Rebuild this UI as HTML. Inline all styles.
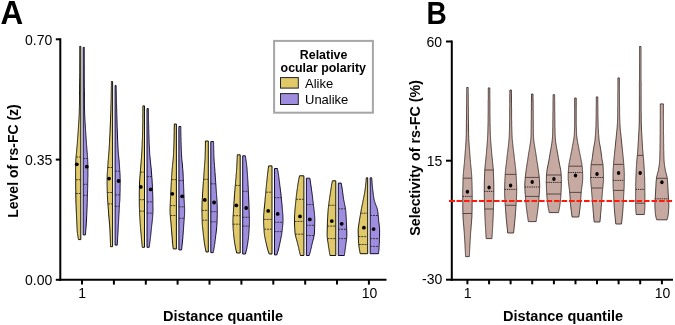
<!DOCTYPE html>
<html><head><meta charset="utf-8"><style>
html,body{margin:0;padding:0;background:#fff;}
svg{display:block;}
text{font-family:"Liberation Sans", sans-serif;fill:#000;}
</style></head><body>
<svg width="675" height="325" viewBox="0 0 675 325" style='font-family:"Liberation Sans", sans-serif'>
<rect width="675" height="325" fill="#fff"/>
<path d="M80.8,46.4 L79.7,46.4 L79.7,47.4 L79.7,48.4 L79.7,49.4 L79.7,50.4 L79.7,51.4 L79.7,52.3 L79.7,53.3 L79.7,54.3 L79.7,55.3 L79.7,56.3 L79.7,57.3 L79.7,58.3 L79.7,59.3 L79.7,60.3 L79.7,61.3 L79.7,62.3 L79.7,63.2 L79.7,64.2 L79.7,65.2 L79.7,66.2 L79.7,67.2 L79.7,68.2 L79.7,69.2 L79.7,70.2 L79.7,71.2 L79.7,72.2 L79.7,73.2 L79.7,74.1 L79.7,75.1 L79.7,76.1 L79.7,77.1 L79.7,78.1 L79.6,79.1 L79.6,80.1 L79.6,81.1 L79.6,82.1 L79.6,83.1 L79.6,84 L79.6,85 L79.6,86 L79.6,87 L79.6,88 L79.6,89 L79.6,90 L79.6,91 L79.6,92 L79.5,93 L79.5,94 L79.5,94.9 L79.5,95.9 L79.5,96.9 L79.5,97.9 L79.5,98.9 L79.5,99.9 L79.5,100.9 L79.5,101.9 L79.5,102.9 L79.5,103.9 L79.4,104.9 L79.4,105.8 L79.4,106.8 L79.4,107.8 L79.4,108.8 L79.3,109.8 L79.3,110.8 L79.3,111.8 L79.3,112.8 L79.2,113.8 L79.2,114.8 L79.1,115.8 L79.1,116.7 L79,117.7 L79,118.7 L78.9,119.7 L78.9,120.7 L78.8,121.7 L78.7,122.7 L78.7,123.7 L78.6,124.7 L78.5,125.7 L78.5,126.7 L78.4,127.6 L78.3,128.6 L78.3,129.6 L78.2,130.6 L78.1,131.6 L78.1,132.6 L78,133.6 L77.9,134.6 L77.8,135.6 L77.8,136.6 L77.7,137.6 L77.6,138.5 L77.6,139.5 L77.5,140.5 L77.4,141.5 L77.3,142.5 L77.3,143.5 L77.2,144.5 L77.1,145.5 L77,146.5 L76.9,147.5 L76.8,148.4 L76.7,149.4 L76.7,150.4 L76.6,151.4 L76.5,152.4 L76.4,153.4 L76.3,154.4 L76.2,155.4 L76.1,156.4 L76,157.4 L75.9,158.4 L75.8,159.3 L75.8,160.3 L75.8,161.3 L75.7,162.3 L75.7,163.3 L75.7,164.3 L75.7,165.3 L75.6,166.3 L75.6,167.3 L75.6,168.3 L75.6,169.3 L75.6,170.2 L75.6,171.2 L75.6,172.2 L75.6,173.2 L75.6,174.2 L75.6,175.2 L75.6,176.2 L75.6,177.2 L75.6,178.2 L75.6,179.2 L75.7,180.2 L75.7,181.1 L75.7,182.1 L75.7,183.1 L75.7,184.1 L75.7,185.1 L75.7,186.1 L75.7,187.1 L75.7,188.1 L75.7,189.1 L75.8,190.1 L75.8,191.1 L75.8,192 L75.8,193 L75.8,194 L75.8,195 L75.8,196 L75.8,197 L75.9,198 L75.9,199 L75.9,200 L75.9,201 L75.9,202 L76,202.9 L76,203.9 L76,204.9 L76.1,205.9 L76.1,206.9 L76.2,207.9 L76.2,208.9 L76.2,209.9 L76.3,210.9 L76.3,211.9 L76.4,212.8 L76.4,213.8 L76.5,214.8 L76.5,215.8 L76.6,216.8 L76.6,217.8 L76.6,218.8 L76.7,219.8 L76.7,220.8 L76.8,221.8 L76.8,222.8 L76.8,223.7 L76.9,224.7 L76.9,225.7 L77,226.7 L77,227.7 L77.1,228.7 L77.1,229.7 L77.2,230.7 L77.3,231.7 L77.4,232.7 L77.5,233.7 L77.6,234.6 L77.8,235.6 L77.9,236.6 L78.1,237.6 L78.3,238.6 L78.5,239.6 L80.8,239.6 Z" fill="#E1C96A" stroke="#111108" stroke-width="1.0" stroke-linejoin="miter"/>
<path d="M83.2,47.4 L84.3,47.4 L84.3,48.4 L84.3,49.4 L84.3,50.4 L84.3,51.4 L84.3,52.4 L84.3,53.4 L84.3,54.3 L84.3,55.3 L84.3,56.3 L84.3,57.3 L84.3,58.3 L84.3,59.3 L84.3,60.3 L84.3,61.3 L84.3,62.3 L84.3,63.3 L84.3,64.3 L84.3,65.3 L84.3,66.2 L84.3,67.2 L84.3,68.2 L84.3,69.2 L84.3,70.2 L84.3,71.2 L84.3,72.2 L84.3,73.2 L84.3,74.2 L84.3,75.2 L84.3,76.2 L84.3,77.2 L84.3,78.2 L84.3,79.1 L84.3,80.1 L84.3,81.1 L84.3,82.1 L84.3,83.1 L84.3,84.1 L84.3,85.1 L84.3,86.1 L84.3,87.1 L84.4,88.1 L84.4,89.1 L84.4,90.1 L84.4,91.1 L84.4,92 L84.4,93 L84.4,94 L84.4,95 L84.4,96 L84.4,97 L84.4,98 L84.4,99 L84.4,100 L84.4,101 L84.4,102 L84.4,103 L84.4,103.9 L84.5,104.9 L84.5,105.9 L84.5,106.9 L84.5,107.9 L84.5,108.9 L84.5,109.9 L84.6,110.9 L84.6,111.9 L84.6,112.9 L84.7,113.9 L84.7,114.9 L84.7,115.9 L84.8,116.8 L84.8,117.8 L84.9,118.8 L84.9,119.8 L85,120.8 L85,121.8 L85.1,122.8 L85.2,123.8 L85.2,124.8 L85.3,125.8 L85.4,126.8 L85.4,127.8 L85.5,128.7 L85.5,129.7 L85.6,130.7 L85.7,131.7 L85.7,132.7 L85.8,133.7 L85.9,134.7 L85.9,135.7 L86,136.7 L86.1,137.7 L86.1,138.7 L86.2,139.7 L86.3,140.7 L86.3,141.6 L86.4,142.6 L86.5,143.6 L86.5,144.6 L86.6,145.6 L86.7,146.6 L86.8,147.6 L86.8,148.6 L86.9,149.6 L87,150.6 L87.1,151.6 L87.2,152.6 L87.3,153.6 L87.4,154.5 L87.4,155.5 L87.5,156.5 L87.6,157.5 L87.6,158.5 L87.7,159.5 L87.7,160.5 L87.7,161.5 L87.8,162.5 L87.8,163.5 L87.8,164.5 L87.8,165.5 L87.9,166.4 L87.9,167.4 L87.9,168.4 L87.9,169.4 L87.9,170.4 L87.9,171.4 L87.9,172.4 L87.9,173.4 L87.9,174.4 L87.9,175.4 L87.9,176.4 L87.8,177.4 L87.8,178.4 L87.8,179.3 L87.8,180.3 L87.8,181.3 L87.7,182.3 L87.7,183.3 L87.7,184.3 L87.7,185.3 L87.7,186.3 L87.7,187.3 L87.6,188.3 L87.6,189.3 L87.6,190.3 L87.6,191.2 L87.5,192.2 L87.5,193.2 L87.5,194.2 L87.4,195.2 L87.4,196.2 L87.4,197.2 L87.4,198.2 L87.3,199.2 L87.3,200.2 L87.3,201.2 L87.2,202.2 L87.2,203.2 L87.2,204.1 L87.1,205.1 L87.1,206.1 L87.1,207.1 L87,208.1 L87,209.1 L86.9,210.1 L86.9,211.1 L86.8,212.1 L86.8,213.1 L86.8,214.1 L86.7,215.1 L86.7,216.1 L86.6,217 L86.6,218 L86.5,219 L86.5,220 L86.4,221 L86.4,222 L86.3,223 L86.2,224 L86.2,225 L86.1,226 L86,227 L86,228 L85.9,228.9 L85.8,229.9 L85.7,230.9 L85.6,231.9 L85.6,232.9 L85.5,233.9 L85.4,234.9 L83.2,234.9 Z" fill="#9F8DDF" stroke="#100c24" stroke-width="1.0" stroke-linejoin="miter"/>
<line x1="76.1" y1="157" x2="80.8" y2="157" stroke="#2a2a2a" stroke-width="0.9" stroke-dasharray="2 0.9"/>
<line x1="75.8" y1="179.7" x2="80.8" y2="179.7" stroke="#2a2a2a" stroke-width="0.9" stroke-dasharray="2 0.9"/>
<line x1="75.9" y1="193.5" x2="80.8" y2="193.5" stroke="#2a2a2a" stroke-width="0.9" stroke-dasharray="2 0.9"/>
<line x1="83.2" y1="158.5" x2="87.5" y2="158.5" stroke="#2a2a2a" stroke-width="0.9" stroke-dasharray="2 0.9"/>
<line x1="83.2" y1="184.3" x2="87.6" y2="184.3" stroke="#2a2a2a" stroke-width="0.9" stroke-dasharray="2 0.9"/>
<line x1="83.2" y1="195.4" x2="87.3" y2="195.4" stroke="#2a2a2a" stroke-width="0.9" stroke-dasharray="2 0.9"/>
<circle cx="76.8" cy="164.3" r="1.9" fill="#000"/>
<circle cx="86.8" cy="166.7" r="1.9" fill="#000"/>
<path d="M112.6,81.5 L111.4,81.5 L111.4,82.5 L111.4,83.5 L111.4,84.5 L111.4,85.5 L111.4,86.4 L111.3,87.4 L111.3,88.4 L111.3,89.4 L111.3,90.4 L111.3,91.4 L111.3,92.4 L111.2,93.4 L111.2,94.4 L111.2,95.3 L111.2,96.3 L111.2,97.3 L111.2,98.3 L111.1,99.3 L111.1,100.3 L111.1,101.3 L111.1,102.3 L111,103.3 L111,104.3 L111,105.2 L110.9,106.2 L110.9,107.2 L110.9,108.2 L110.9,109.2 L110.8,110.2 L110.8,111.2 L110.8,112.2 L110.7,113.2 L110.7,114.1 L110.7,115.1 L110.6,116.1 L110.6,117.1 L110.6,118.1 L110.5,119.1 L110.5,120.1 L110.5,121.1 L110.4,122.1 L110.4,123 L110.3,124 L110.3,125 L110.3,126 L110.2,127 L110.2,128 L110.1,129 L110.1,130 L110.1,131 L110,132 L110,132.9 L109.9,133.9 L109.9,134.9 L109.8,135.9 L109.8,136.9 L109.7,137.9 L109.7,138.9 L109.6,139.9 L109.6,140.9 L109.5,141.8 L109.5,142.8 L109.4,143.8 L109.4,144.8 L109.3,145.8 L109.2,146.8 L109.2,147.8 L109.1,148.8 L109.1,149.8 L109,150.7 L108.9,151.7 L108.8,152.7 L108.8,153.7 L108.7,154.7 L108.6,155.7 L108.5,156.7 L108.4,157.7 L108.4,158.7 L108.3,159.6 L108.2,160.6 L108.1,161.6 L108,162.6 L108,163.6 L107.9,164.6 L107.8,165.6 L107.8,166.6 L107.7,167.6 L107.6,168.6 L107.6,169.5 L107.5,170.5 L107.4,171.5 L107.4,172.5 L107.3,173.5 L107.2,174.5 L107.2,175.5 L107.2,176.5 L107.1,177.5 L107.1,178.4 L107.1,179.4 L107.1,180.4 L107.1,181.4 L107.1,182.4 L107.1,183.4 L107.1,184.4 L107.1,185.4 L107.1,186.4 L107.2,187.3 L107.2,188.3 L107.2,189.3 L107.2,190.3 L107.3,191.3 L107.3,192.3 L107.3,193.3 L107.4,194.3 L107.4,195.3 L107.4,196.2 L107.5,197.2 L107.5,198.2 L107.6,199.2 L107.6,200.2 L107.7,201.2 L107.8,202.2 L107.9,203.2 L107.9,204.2 L108,205.2 L108.1,206.1 L108.2,207.1 L108.2,208.1 L108.3,209.1 L108.4,210.1 L108.5,211.1 L108.5,212.1 L108.6,213.1 L108.7,214.1 L108.7,215 L108.8,216 L108.9,217 L109,218 L109.1,219 L109.2,220 L109.3,221 L109.3,222 L109.4,223 L109.5,223.9 L109.6,224.9 L109.7,225.9 L109.7,226.9 L109.8,227.9 L109.9,228.9 L109.9,229.9 L110,230.9 L110,231.9 L110.1,232.9 L110.1,233.8 L110.1,234.8 L110.2,235.8 L110.2,236.8 L110.3,237.8 L110.3,238.8 L110.3,239.8 L110.4,240.8 L110.4,241.8 L110.4,242.7 L110.5,243.7 L110.5,244.7 L110.5,245.7 L110.5,246.7 L112.6,246.7 Z" fill="#E1C96A" stroke="#111108" stroke-width="1.0" stroke-linejoin="miter"/>
<path d="M115.1,85.4 L116.1,85.4 L116.2,86.4 L116.2,87.4 L116.2,88.4 L116.2,89.4 L116.2,90.4 L116.3,91.4 L116.3,92.3 L116.3,93.3 L116.3,94.3 L116.3,95.3 L116.4,96.3 L116.4,97.3 L116.4,98.3 L116.4,99.3 L116.4,100.3 L116.5,101.3 L116.5,102.3 L116.5,103.3 L116.5,104.2 L116.6,105.2 L116.6,106.2 L116.6,107.2 L116.6,108.2 L116.7,109.2 L116.7,110.2 L116.7,111.2 L116.7,112.2 L116.8,113.2 L116.8,114.2 L116.8,115.2 L116.8,116.1 L116.9,117.1 L116.9,118.1 L116.9,119.1 L117,120.1 L117,121.1 L117,122.1 L117,123.1 L117.1,124.1 L117.1,125.1 L117.1,126.1 L117.2,127.1 L117.2,128.1 L117.2,129 L117.3,130 L117.3,131 L117.3,132 L117.4,133 L117.4,134 L117.4,135 L117.5,136 L117.5,137 L117.5,138 L117.6,139 L117.6,140 L117.7,140.9 L117.7,141.9 L117.8,142.9 L117.8,143.9 L117.8,144.9 L117.9,145.9 L117.9,146.9 L118,147.9 L118,148.9 L118.1,149.9 L118.2,150.9 L118.2,151.9 L118.3,152.9 L118.4,153.8 L118.5,154.8 L118.6,155.8 L118.7,156.8 L118.8,157.8 L118.9,158.8 L119,159.8 L119.1,160.8 L119.2,161.8 L119.2,162.8 L119.3,163.8 L119.4,164.8 L119.4,165.7 L119.5,166.7 L119.6,167.7 L119.6,168.7 L119.7,169.7 L119.8,170.7 L119.8,171.7 L119.9,172.7 L120,173.7 L120,174.7 L120.1,175.7 L120.1,176.7 L120.1,177.6 L120.2,178.6 L120.2,179.6 L120.2,180.6 L120.2,181.6 L120.2,182.6 L120.2,183.6 L120.2,184.6 L120.1,185.6 L120.1,186.6 L120.1,187.6 L120.1,188.6 L120.1,189.6 L120.1,190.5 L120.1,191.5 L120,192.5 L120,193.5 L120,194.5 L120,195.5 L119.9,196.5 L119.9,197.5 L119.9,198.5 L119.8,199.5 L119.8,200.5 L119.7,201.5 L119.6,202.4 L119.6,203.4 L119.5,204.4 L119.4,205.4 L119.4,206.4 L119.3,207.4 L119.3,208.4 L119.2,209.4 L119.2,210.4 L119.1,211.4 L119.1,212.4 L119,213.4 L118.9,214.4 L118.9,215.3 L118.8,216.3 L118.8,217.3 L118.7,218.3 L118.7,219.3 L118.6,220.3 L118.6,221.3 L118.5,222.3 L118.5,223.3 L118.4,224.3 L118.3,225.3 L118.3,226.3 L118.2,227.2 L118.2,228.2 L118.1,229.2 L118.1,230.2 L118,231.2 L118,232.2 L117.9,233.2 L117.9,234.2 L117.8,235.2 L117.7,236.2 L117.7,237.2 L117.6,238.2 L117.6,239.1 L117.5,240.1 L117.5,241.1 L117.4,242.1 L117.4,243.1 L117.3,244.1 L117.3,245.1 L115.1,245.1 Z" fill="#9F8DDF" stroke="#100c24" stroke-width="1.0" stroke-linejoin="miter"/>
<line x1="107.8" y1="167.5" x2="112.7" y2="167.5" stroke="#2a2a2a" stroke-width="0.9" stroke-dasharray="2 0.9"/>
<line x1="107.4" y1="192.5" x2="112.7" y2="192.5" stroke="#2a2a2a" stroke-width="0.9" stroke-dasharray="2 0.9"/>
<line x1="108" y1="203.9" x2="112.7" y2="203.9" stroke="#2a2a2a" stroke-width="0.9" stroke-dasharray="2 0.9"/>
<line x1="115" y1="171.2" x2="119.7" y2="171.2" stroke="#2a2a2a" stroke-width="0.9" stroke-dasharray="2 0.9"/>
<line x1="115" y1="194.9" x2="119.9" y2="194.9" stroke="#2a2a2a" stroke-width="0.9" stroke-dasharray="2 0.9"/>
<line x1="115" y1="206.3" x2="119.3" y2="206.3" stroke="#2a2a2a" stroke-width="0.9" stroke-dasharray="2 0.9"/>
<circle cx="109" cy="178.6" r="1.9" fill="#000"/>
<circle cx="118.6" cy="181" r="1.9" fill="#000"/>
<path d="M144.5,105.9 L142.9,105.9 L142.9,106.9 L142.9,107.9 L142.9,108.9 L142.9,109.9 L142.9,110.8 L142.9,111.8 L142.9,112.8 L142.9,113.8 L142.8,114.8 L142.8,115.8 L142.8,116.8 L142.8,117.8 L142.8,118.8 L142.8,119.7 L142.8,120.7 L142.8,121.7 L142.8,122.7 L142.7,123.7 L142.7,124.7 L142.7,125.7 L142.7,126.7 L142.7,127.7 L142.7,128.6 L142.6,129.6 L142.6,130.6 L142.6,131.6 L142.6,132.6 L142.6,133.6 L142.5,134.6 L142.5,135.6 L142.5,136.6 L142.4,137.5 L142.4,138.5 L142.4,139.5 L142.3,140.5 L142.3,141.5 L142.2,142.5 L142.2,143.5 L142.2,144.5 L142.1,145.5 L142.1,146.4 L142,147.4 L142,148.4 L141.9,149.4 L141.9,150.4 L141.8,151.4 L141.8,152.4 L141.7,153.4 L141.6,154.4 L141.6,155.3 L141.5,156.3 L141.5,157.3 L141.4,158.3 L141.3,159.3 L141.2,160.3 L141.2,161.3 L141.1,162.3 L141,163.3 L140.9,164.2 L140.8,165.2 L140.7,166.2 L140.7,167.2 L140.6,168.2 L140.5,169.2 L140.4,170.2 L140.4,171.2 L140.3,172.2 L140.2,173.1 L140.2,174.1 L140.1,175.1 L140,176.1 L139.9,177.1 L139.8,178.1 L139.8,179.1 L139.7,180.1 L139.6,181 L139.6,182 L139.5,183 L139.5,184 L139.5,185 L139.4,186 L139.4,187 L139.4,188 L139.4,189 L139.4,189.9 L139.3,190.9 L139.3,191.9 L139.3,192.9 L139.3,193.9 L139.3,194.9 L139.3,195.9 L139.3,196.9 L139.3,197.9 L139.3,198.8 L139.3,199.8 L139.3,200.8 L139.3,201.8 L139.3,202.8 L139.3,203.8 L139.3,204.8 L139.3,205.8 L139.4,206.8 L139.4,207.7 L139.4,208.7 L139.5,209.7 L139.5,210.7 L139.5,211.7 L139.6,212.7 L139.6,213.7 L139.6,214.7 L139.7,215.7 L139.8,216.6 L139.8,217.6 L139.9,218.6 L139.9,219.6 L140,220.6 L140.1,221.6 L140.1,222.6 L140.2,223.6 L140.3,224.6 L140.3,225.5 L140.4,226.5 L140.5,227.5 L140.6,228.5 L140.6,229.5 L140.7,230.5 L140.8,231.5 L140.9,232.5 L141,233.5 L141.1,234.4 L141.2,235.4 L141.3,236.4 L141.3,237.4 L141.4,238.4 L141.5,239.4 L141.6,240.4 L141.7,241.4 L141.8,242.4 L141.9,243.3 L142,244.3 L142.1,245.3 L142.2,246.3 L142.3,247.3 L144.5,247.3 Z" fill="#E1C96A" stroke="#111108" stroke-width="1.0" stroke-linejoin="miter"/>
<path d="M147,108.6 L148.4,108.6 L148.4,109.6 L148.4,110.6 L148.4,111.6 L148.4,112.6 L148.5,113.6 L148.5,114.5 L148.5,115.5 L148.5,116.5 L148.5,117.5 L148.5,118.5 L148.5,119.5 L148.5,120.5 L148.6,121.5 L148.6,122.5 L148.6,123.5 L148.6,124.5 L148.7,125.4 L148.7,126.4 L148.7,127.4 L148.7,128.4 L148.7,129.4 L148.8,130.4 L148.8,131.4 L148.8,132.4 L148.8,133.4 L148.9,134.4 L148.9,135.3 L148.9,136.3 L149,137.3 L149,138.3 L149,139.3 L149.1,140.3 L149.1,141.3 L149.1,142.3 L149.2,143.3 L149.2,144.3 L149.3,145.3 L149.3,146.2 L149.4,147.2 L149.4,148.2 L149.5,149.2 L149.5,150.2 L149.6,151.2 L149.6,152.2 L149.7,153.2 L149.7,154.2 L149.8,155.2 L149.9,156.2 L150,157.1 L150.1,158.1 L150.2,159.1 L150.3,160.1 L150.4,161.1 L150.5,162.1 L150.6,163.1 L150.7,164.1 L150.8,165.1 L150.9,166.1 L151,167.1 L151.1,168 L151.2,169 L151.3,170 L151.3,171 L151.4,172 L151.5,173 L151.6,174 L151.7,175 L151.7,176 L151.8,177 L151.9,177.9 L152,178.9 L152.1,179.9 L152.1,180.9 L152.2,181.9 L152.2,182.9 L152.3,183.9 L152.4,184.9 L152.4,185.9 L152.4,186.9 L152.5,187.9 L152.5,188.8 L152.6,189.8 L152.6,190.8 L152.6,191.8 L152.7,192.8 L152.7,193.8 L152.7,194.8 L152.8,195.8 L152.8,196.8 L152.8,197.8 L152.8,198.8 L152.9,199.7 L152.9,200.7 L152.9,201.7 L152.9,202.7 L152.9,203.7 L152.9,204.7 L152.9,205.7 L152.9,206.7 L153,207.7 L153,208.7 L153,209.7 L153,210.6 L152.9,211.6 L152.9,212.6 L152.9,213.6 L152.8,214.6 L152.7,215.6 L152.7,216.6 L152.6,217.6 L152.5,218.6 L152.4,219.6 L152.3,220.6 L152.2,221.5 L152.1,222.5 L152,223.5 L151.8,224.5 L151.7,225.5 L151.6,226.5 L151.5,227.5 L151.4,228.5 L151.3,229.5 L151.2,230.5 L151.1,231.4 L151,232.4 L150.9,233.4 L150.8,234.4 L150.7,235.4 L150.6,236.4 L150.5,237.4 L150.3,238.4 L150.2,239.4 L150.1,240.4 L150,241.4 L149.8,242.3 L149.7,243.3 L149.6,244.3 L149.5,245.3 L149.3,246.3 L149.2,247.3 L147,247.3 Z" fill="#9F8DDF" stroke="#100c24" stroke-width="1.0" stroke-linejoin="miter"/>
<line x1="140.4" y1="172.1" x2="144.6" y2="172.1" stroke="#2a2a2a" stroke-width="0.9" stroke-dasharray="2 0.9"/>
<line x1="139.4" y1="199.7" x2="144.6" y2="199.7" stroke="#2a2a2a" stroke-width="0.9" stroke-dasharray="2 0.9"/>
<line x1="139.6" y1="211.1" x2="144.6" y2="211.1" stroke="#2a2a2a" stroke-width="0.9" stroke-dasharray="2 0.9"/>
<line x1="146.9" y1="176.6" x2="151.7" y2="176.6" stroke="#2a2a2a" stroke-width="0.9" stroke-dasharray="2 0.9"/>
<line x1="146.9" y1="201.9" x2="152.8" y2="201.9" stroke="#2a2a2a" stroke-width="0.9" stroke-dasharray="2 0.9"/>
<line x1="146.9" y1="213.1" x2="152.8" y2="213.1" stroke="#2a2a2a" stroke-width="0.9" stroke-dasharray="2 0.9"/>
<circle cx="140.8" cy="186.9" r="1.9" fill="#000"/>
<circle cx="150.7" cy="189.4" r="1.9" fill="#000"/>
<path d="M176.4,124 L174.3,124 L174.3,125 L174.3,126 L174.3,127 L174.2,128 L174.2,129 L174.2,129.9 L174.2,130.9 L174.2,131.9 L174.2,132.9 L174.2,133.9 L174.1,134.9 L174.1,135.9 L174.1,136.9 L174.1,137.9 L174.1,138.9 L174,139.9 L174,140.9 L174,141.8 L174,142.8 L173.9,143.8 L173.9,144.8 L173.9,145.8 L173.8,146.8 L173.8,147.8 L173.8,148.8 L173.7,149.8 L173.7,150.8 L173.6,151.8 L173.6,152.7 L173.6,153.7 L173.5,154.7 L173.4,155.7 L173.4,156.7 L173.3,157.7 L173.2,158.7 L173.1,159.7 L173,160.7 L172.9,161.7 L172.8,162.7 L172.7,163.7 L172.6,164.6 L172.5,165.6 L172.4,166.6 L172.3,167.6 L172.2,168.6 L172.1,169.6 L172.1,170.6 L172,171.6 L171.9,172.6 L171.8,173.6 L171.8,174.6 L171.7,175.5 L171.6,176.5 L171.6,177.5 L171.5,178.5 L171.5,179.5 L171.4,180.5 L171.4,181.5 L171.3,182.5 L171.2,183.5 L171.2,184.5 L171.1,185.5 L171.1,186.4 L171,187.4 L171,188.4 L170.9,189.4 L170.9,190.4 L170.8,191.4 L170.8,192.4 L170.7,193.4 L170.7,194.4 L170.7,195.4 L170.6,196.4 L170.6,197.4 L170.5,198.3 L170.5,199.3 L170.4,200.3 L170.4,201.3 L170.3,202.3 L170.3,203.3 L170.2,204.3 L170.2,205.3 L170.1,206.3 L170.1,207.3 L170.1,208.3 L170,209.2 L170,210.2 L170.1,211.2 L170.1,212.2 L170.1,213.2 L170.2,214.2 L170.3,215.2 L170.3,216.2 L170.4,217.2 L170.5,218.2 L170.6,219.2 L170.7,220.2 L170.8,221.1 L170.9,222.1 L171,223.1 L171.1,224.1 L171.1,225.1 L171.2,226.1 L171.3,227.1 L171.4,228.1 L171.5,229.1 L171.5,230.1 L171.6,231.1 L171.7,232 L171.8,233 L171.9,234 L171.9,235 L172,236 L172.1,237 L172.2,238 L172.3,239 L172.3,240 L172.4,241 L172.5,242 L172.6,243 L172.7,243.9 L172.8,244.9 L172.9,245.9 L173,246.9 L173.1,247.9 L173.2,248.9 L176.4,248.9 Z" fill="#E1C96A" stroke="#111108" stroke-width="1.0" stroke-linejoin="miter"/>
<path d="M178.9,126.5 L180.8,126.5 L180.8,127.5 L180.8,128.5 L180.8,129.5 L180.8,130.4 L180.8,131.4 L180.8,132.4 L180.9,133.4 L180.9,134.4 L180.9,135.4 L180.9,136.4 L180.9,137.4 L181,138.3 L181,139.3 L181,140.3 L181,141.3 L181.1,142.3 L181.1,143.3 L181.1,144.3 L181.1,145.3 L181.2,146.2 L181.2,147.2 L181.2,148.2 L181.3,149.2 L181.3,150.2 L181.4,151.2 L181.4,152.2 L181.5,153.2 L181.5,154.1 L181.6,155.1 L181.6,156.1 L181.7,157.1 L181.7,158.1 L181.8,159.1 L181.9,160.1 L182,161.1 L182.1,162 L182.2,163 L182.3,164 L182.4,165 L182.5,166 L182.5,167 L182.6,168 L182.7,168.9 L182.8,169.9 L182.9,170.9 L183,171.9 L183,172.9 L183.1,173.9 L183.1,174.9 L183.2,175.9 L183.2,176.8 L183.3,177.8 L183.3,178.8 L183.4,179.8 L183.4,180.8 L183.4,181.8 L183.5,182.8 L183.5,183.8 L183.6,184.7 L183.6,185.7 L183.6,186.7 L183.7,187.7 L183.7,188.7 L183.7,189.7 L183.8,190.7 L183.8,191.7 L183.8,192.6 L183.9,193.6 L183.9,194.6 L184,195.6 L184,196.6 L184,197.6 L184.1,198.6 L184.1,199.6 L184.2,200.5 L184.2,201.5 L184.3,202.5 L184.3,203.5 L184.4,204.5 L184.5,205.5 L184.5,206.5 L184.6,207.5 L184.6,208.4 L184.6,209.4 L184.6,210.4 L184.6,211.4 L184.6,212.4 L184.6,213.4 L184.5,214.4 L184.5,215.3 L184.4,216.3 L184.3,217.3 L184.3,218.3 L184.2,219.3 L184.1,220.3 L184,221.3 L183.9,222.3 L183.9,223.2 L183.8,224.2 L183.7,225.2 L183.7,226.2 L183.6,227.2 L183.5,228.2 L183.5,229.2 L183.4,230.2 L183.3,231.1 L183.2,232.1 L183.2,233.1 L183.1,234.1 L183,235.1 L182.9,236.1 L182.9,237.1 L182.8,238.1 L182.7,239 L182.6,240 L182.5,241 L182.4,242 L182.3,243 L182.2,244 L182.1,245 L182,246 L181.9,246.9 L181.8,247.9 L181.7,248.9 L181.5,249.9 L178.9,249.9 Z" fill="#9F8DDF" stroke="#100c24" stroke-width="1.0" stroke-linejoin="miter"/>
<line x1="171.6" y1="179.6" x2="176.5" y2="179.6" stroke="#2a2a2a" stroke-width="0.9" stroke-dasharray="2 0.9"/>
<line x1="170.3" y1="205.6" x2="176.5" y2="205.6" stroke="#2a2a2a" stroke-width="0.9" stroke-dasharray="2 0.9"/>
<line x1="170.4" y1="215.5" x2="176.5" y2="215.5" stroke="#2a2a2a" stroke-width="0.9" stroke-dasharray="2 0.9"/>
<line x1="178.8" y1="180.6" x2="183.3" y2="180.6" stroke="#2a2a2a" stroke-width="0.9" stroke-dasharray="2 0.9"/>
<line x1="178.8" y1="206.8" x2="184.5" y2="206.8" stroke="#2a2a2a" stroke-width="0.9" stroke-dasharray="2 0.9"/>
<line x1="178.8" y1="218.3" x2="184.2" y2="218.3" stroke="#2a2a2a" stroke-width="0.9" stroke-dasharray="2 0.9"/>
<circle cx="172.3" cy="193.8" r="1.9" fill="#000"/>
<circle cx="182.2" cy="196.3" r="1.9" fill="#000"/>
<path d="M208.3,141 L205.4,141 L205.4,142 L205.4,143 L205.4,143.9 L205.4,144.9 L205.4,145.9 L205.4,146.9 L205.3,147.9 L205.3,148.9 L205.3,149.8 L205.3,150.8 L205.3,151.8 L205.2,152.8 L205.2,153.8 L205.2,154.8 L205.2,155.7 L205.1,156.7 L205.1,157.7 L205,158.7 L205,159.7 L204.9,160.6 L204.8,161.6 L204.8,162.6 L204.7,163.6 L204.6,164.6 L204.5,165.6 L204.5,166.5 L204.4,167.5 L204.3,168.5 L204.3,169.5 L204.2,170.5 L204.1,171.5 L204.1,172.4 L204,173.4 L203.9,174.4 L203.9,175.4 L203.8,176.4 L203.7,177.3 L203.6,178.3 L203.6,179.3 L203.5,180.3 L203.4,181.3 L203.3,182.3 L203.3,183.2 L203.2,184.2 L203.1,185.2 L203.1,186.2 L203,187.2 L202.9,188.2 L202.9,189.1 L202.8,190.1 L202.8,191.1 L202.7,192.1 L202.6,193.1 L202.6,194 L202.5,195 L202.5,196 L202.4,197 L202.3,198 L202.3,199 L202.2,199.9 L202.2,200.9 L202.1,201.9 L202.1,202.9 L202.1,203.9 L202,204.8 L202,205.8 L202,206.8 L201.9,207.8 L201.9,208.8 L201.9,209.8 L201.9,210.7 L201.9,211.7 L201.9,212.7 L202,213.7 L202,214.7 L202,215.7 L202,216.6 L202.1,217.6 L202.1,218.6 L202.1,219.6 L202.2,220.6 L202.2,221.5 L202.2,222.5 L202.3,223.5 L202.3,224.5 L202.4,225.5 L202.5,226.5 L202.6,227.4 L202.7,228.4 L202.8,229.4 L202.9,230.4 L203,231.4 L203.1,232.4 L203.2,233.3 L203.3,234.3 L203.4,235.3 L203.6,236.3 L203.7,237.3 L203.8,238.2 L203.9,239.2 L204,240.2 L204.2,241.2 L204.3,242.2 L204.4,243.2 L204.6,244.1 L204.8,245.1 L204.9,246.1 L205.1,247.1 L205.3,248.1 L205.5,249.1 L205.7,250 L205.9,251 L206.1,252 L208.3,252 Z" fill="#E1C96A" stroke="#111108" stroke-width="1.0" stroke-linejoin="miter"/>
<path d="M210.8,141.6 L213.6,141.6 L213.6,142.6 L213.6,143.6 L213.6,144.5 L213.6,145.5 L213.7,146.5 L213.7,147.5 L213.7,148.5 L213.7,149.5 L213.7,150.4 L213.8,151.4 L213.8,152.4 L213.8,153.4 L213.8,154.4 L213.9,155.4 L213.9,156.3 L213.9,157.3 L214,158.3 L214.1,159.3 L214.1,160.3 L214.2,161.2 L214.2,162.2 L214.3,163.2 L214.4,164.2 L214.5,165.2 L214.5,166.2 L214.6,167.1 L214.7,168.1 L214.8,169.1 L214.8,170.1 L214.9,171.1 L214.9,172.1 L215,173 L215.1,174 L215.2,175 L215.2,176 L215.3,177 L215.4,177.9 L215.4,178.9 L215.5,179.9 L215.6,180.9 L215.7,181.9 L215.7,182.9 L215.8,183.8 L215.9,184.8 L215.9,185.8 L216,186.8 L216.1,187.8 L216.1,188.8 L216.2,189.7 L216.3,190.7 L216.3,191.7 L216.4,192.7 L216.5,193.7 L216.5,194.6 L216.6,195.6 L216.7,196.6 L216.8,197.6 L216.8,198.6 L216.9,199.6 L217,200.5 L217,201.5 L217.1,202.5 L217.1,203.5 L217.2,204.5 L217.2,205.4 L217.3,206.4 L217.3,207.4 L217.3,208.4 L217.3,209.4 L217.3,210.4 L217.3,211.3 L217.3,212.3 L217.3,213.3 L217.3,214.3 L217.2,215.3 L217.2,216.3 L217.2,217.2 L217.2,218.2 L217.1,219.2 L217.1,220.2 L217.1,221.2 L217,222.1 L217,223.1 L216.9,224.1 L216.8,225.1 L216.8,226.1 L216.7,227.1 L216.6,228 L216.5,229 L216.4,230 L216.3,231 L216.2,232 L216.1,233 L216,233.9 L215.8,234.9 L215.7,235.9 L215.6,236.9 L215.5,237.9 L215.4,238.8 L215.2,239.8 L215.1,240.8 L215,241.8 L214.9,242.8 L214.8,243.8 L214.6,244.7 L214.4,245.7 L214.3,246.7 L214.1,247.7 L213.9,248.7 L213.8,249.7 L213.6,250.6 L213.4,251.6 L213.2,252.6 L210.8,252.6 Z" fill="#9F8DDF" stroke="#100c24" stroke-width="1.0" stroke-linejoin="miter"/>
<line x1="203.7" y1="179.3" x2="208.4" y2="179.3" stroke="#2a2a2a" stroke-width="0.9" stroke-dasharray="2 0.9"/>
<line x1="202" y1="210.4" x2="208.4" y2="210.4" stroke="#2a2a2a" stroke-width="0.9" stroke-dasharray="2 0.9"/>
<line x1="202.3" y1="220.2" x2="208.4" y2="220.2" stroke="#2a2a2a" stroke-width="0.9" stroke-dasharray="2 0.9"/>
<line x1="210.7" y1="183.8" x2="215.7" y2="183.8" stroke="#2a2a2a" stroke-width="0.9" stroke-dasharray="2 0.9"/>
<line x1="210.7" y1="211.7" x2="217.2" y2="211.7" stroke="#2a2a2a" stroke-width="0.9" stroke-dasharray="2 0.9"/>
<line x1="210.7" y1="221.8" x2="216.9" y2="221.8" stroke="#2a2a2a" stroke-width="0.9" stroke-dasharray="2 0.9"/>
<circle cx="204.8" cy="199.9" r="1.9" fill="#000"/>
<circle cx="214.1" cy="202.5" r="1.9" fill="#000"/>
<path d="M240.2,154.8 L237.3,154.8 L237.3,155.8 L237.2,156.8 L237.2,157.7 L237.2,158.7 L237.1,159.7 L237.1,160.7 L237,161.7 L237,162.7 L236.9,163.6 L236.9,164.6 L236.8,165.6 L236.8,166.6 L236.7,167.6 L236.7,168.5 L236.6,169.5 L236.5,170.5 L236.5,171.5 L236.4,172.5 L236.3,173.5 L236.2,174.4 L236.1,175.4 L236.1,176.4 L236,177.4 L235.9,178.4 L235.8,179.4 L235.7,180.3 L235.6,181.3 L235.6,182.3 L235.5,183.3 L235.4,184.3 L235.3,185.2 L235.2,186.2 L235.1,187.2 L235,188.2 L235,189.2 L234.9,190.2 L234.8,191.1 L234.7,192.1 L234.7,193.1 L234.6,194.1 L234.5,195.1 L234.4,196 L234.4,197 L234.3,198 L234.2,199 L234.2,200 L234.1,201 L234,201.9 L234,202.9 L233.9,203.9 L233.8,204.9 L233.8,205.9 L233.7,206.8 L233.6,207.8 L233.6,208.8 L233.5,209.8 L233.5,210.8 L233.4,211.8 L233.3,212.7 L233.3,213.7 L233.2,214.7 L233.1,215.7 L233.1,216.7 L233,217.6 L233,218.6 L232.9,219.6 L232.9,220.6 L232.9,221.6 L232.9,222.6 L232.9,223.5 L232.9,224.5 L233,225.5 L233,226.5 L233.1,227.5 L233.2,228.4 L233.2,229.4 L233.3,230.4 L233.4,231.4 L233.5,232.4 L233.6,233.4 L233.6,234.3 L233.7,235.3 L233.8,236.3 L233.9,237.3 L234,238.3 L234.2,239.3 L234.3,240.2 L234.4,241.2 L234.6,242.2 L234.7,243.2 L234.9,244.2 L235,245.1 L235.2,246.1 L235.4,247.1 L235.6,248.1 L235.8,249.1 L236,250.1 L236.2,251 L236.4,252 L236.7,253 L240.2,253 Z" fill="#E1C96A" stroke="#111108" stroke-width="1.0" stroke-linejoin="miter"/>
<path d="M242.7,155.8 L245.3,155.8 L245.5,156.8 L245.6,157.8 L245.8,158.7 L245.9,159.7 L246.1,160.7 L246.2,161.7 L246.4,162.7 L246.5,163.7 L246.6,164.6 L246.7,165.6 L246.8,166.6 L246.9,167.6 L247,168.6 L247.1,169.5 L247.1,170.5 L247.2,171.5 L247.3,172.5 L247.4,173.5 L247.4,174.5 L247.5,175.4 L247.6,176.4 L247.6,177.4 L247.7,178.4 L247.7,179.4 L247.8,180.4 L247.9,181.3 L247.9,182.3 L248,183.3 L248,184.3 L248.1,185.3 L248.1,186.2 L248.2,187.2 L248.2,188.2 L248.3,189.2 L248.3,190.2 L248.4,191.2 L248.4,192.1 L248.4,193.1 L248.5,194.1 L248.5,195.1 L248.6,196.1 L248.6,197 L248.7,198 L248.7,199 L248.7,200 L248.8,201 L248.8,202 L248.9,202.9 L248.9,203.9 L248.9,204.9 L249,205.9 L249,206.9 L249,207.8 L249.1,208.8 L249.1,209.8 L249.1,210.8 L249.2,211.8 L249.2,212.8 L249.2,213.7 L249.3,214.7 L249.3,215.7 L249.3,216.7 L249.3,217.7 L249.4,218.6 L249.4,219.6 L249.4,220.6 L249.4,221.6 L249.4,222.6 L249.4,223.6 L249.4,224.5 L249.3,225.5 L249.3,226.5 L249.2,227.5 L249.2,228.5 L249.1,229.4 L249,230.4 L249,231.4 L248.9,232.4 L248.8,233.4 L248.8,234.4 L248.7,235.3 L248.6,236.3 L248.5,237.3 L248.4,238.3 L248.3,239.3 L248.1,240.3 L248,241.2 L247.9,242.2 L247.7,243.2 L247.6,244.2 L247.4,245.2 L247.2,246.1 L247,247.1 L246.9,248.1 L246.7,249.1 L246.4,250.1 L246.2,251.1 L245.9,252 L245.7,253 L245.4,254 L242.7,254 Z" fill="#9F8DDF" stroke="#100c24" stroke-width="1.0" stroke-linejoin="miter"/>
<line x1="235.4" y1="185.4" x2="240.2" y2="185.4" stroke="#2a2a2a" stroke-width="0.9" stroke-dasharray="2 0.9"/>
<line x1="233.2" y1="215.7" x2="240.2" y2="215.7" stroke="#2a2a2a" stroke-width="0.9" stroke-dasharray="2 0.9"/>
<line x1="233" y1="224.2" x2="240.2" y2="224.2" stroke="#2a2a2a" stroke-width="0.9" stroke-dasharray="2 0.9"/>
<line x1="242.6" y1="191.3" x2="248.3" y2="191.3" stroke="#2a2a2a" stroke-width="0.9" stroke-dasharray="2 0.9"/>
<line x1="242.6" y1="217.3" x2="249.2" y2="217.3" stroke="#2a2a2a" stroke-width="0.9" stroke-dasharray="2 0.9"/>
<line x1="242.6" y1="226.1" x2="249.2" y2="226.1" stroke="#2a2a2a" stroke-width="0.9" stroke-dasharray="2 0.9"/>
<circle cx="236.3" cy="205.4" r="1.9" fill="#000"/>
<circle cx="246.2" cy="208" r="1.9" fill="#000"/>
<path d="M272,165.9 L268.6,165.9 L268.5,166.9 L268.3,167.9 L268.2,168.8 L268.1,169.8 L268,170.8 L267.9,171.8 L267.7,172.8 L267.6,173.7 L267.5,174.7 L267.4,175.7 L267.3,176.7 L267.2,177.6 L267.1,178.6 L267,179.6 L266.9,180.6 L266.8,181.6 L266.7,182.5 L266.6,183.5 L266.5,184.5 L266.4,185.5 L266.3,186.5 L266.2,187.4 L266.1,188.4 L266,189.4 L265.9,190.4 L265.9,191.4 L265.8,192.3 L265.7,193.3 L265.6,194.3 L265.5,195.3 L265.4,196.2 L265.3,197.2 L265.2,198.2 L265.1,199.2 L265.1,200.2 L265,201.1 L264.9,202.1 L264.8,203.1 L264.7,204.1 L264.6,205.1 L264.5,206 L264.4,207 L264.3,208 L264.2,209 L264.1,209.9 L264,210.9 L264,211.9 L263.9,212.9 L263.8,213.9 L263.7,214.8 L263.7,215.8 L263.6,216.8 L263.6,217.8 L263.6,218.8 L263.6,219.7 L263.6,220.7 L263.6,221.7 L263.6,222.7 L263.7,223.7 L263.7,224.6 L263.7,225.6 L263.8,226.6 L263.9,227.6 L263.9,228.5 L264,229.5 L264.1,230.5 L264.1,231.5 L264.2,232.5 L264.3,233.4 L264.4,234.4 L264.6,235.4 L264.7,236.4 L264.9,237.4 L265.1,238.3 L265.3,239.3 L265.5,240.3 L265.7,241.3 L266,242.3 L266.2,243.2 L266.4,244.2 L266.6,245.2 L266.8,246.2 L267.1,247.1 L267.3,248.1 L267.6,249.1 L267.9,250.1 L268.2,251.1 L268.5,252 L268.9,253 L269.2,254 L272,254 Z" fill="#E1C96A" stroke="#111108" stroke-width="1.0" stroke-linejoin="miter"/>
<path d="M274.5,168.5 L277.5,168.5 L277.6,169.5 L277.8,170.5 L278,171.4 L278.1,172.4 L278.3,173.4 L278.5,174.4 L278.6,175.4 L278.7,176.4 L278.8,177.3 L279,178.3 L279.1,179.3 L279.2,180.3 L279.3,181.3 L279.5,182.2 L279.6,183.2 L279.7,184.2 L279.8,185.2 L279.9,186.2 L280.1,187.2 L280.2,188.1 L280.3,189.1 L280.4,190.1 L280.5,191.1 L280.7,192.1 L280.8,193 L280.9,194 L281,195 L281.1,196 L281.2,197 L281.3,198 L281.4,198.9 L281.5,199.9 L281.6,200.9 L281.7,201.9 L281.8,202.9 L281.9,203.8 L282,204.8 L282.1,205.8 L282.2,206.8 L282.2,207.8 L282.3,208.8 L282.4,209.7 L282.5,210.7 L282.6,211.7 L282.7,212.7 L282.7,213.7 L282.8,214.6 L282.9,215.6 L282.9,216.6 L282.9,217.6 L283,218.6 L283,219.6 L283,220.5 L283,221.5 L282.9,222.5 L282.9,223.5 L282.8,224.5 L282.7,225.4 L282.6,226.4 L282.5,227.4 L282.4,228.4 L282.3,229.4 L282.2,230.4 L282.1,231.3 L281.9,232.3 L281.8,233.3 L281.7,234.3 L281.5,235.3 L281.3,236.2 L281.1,237.2 L281,238.2 L280.7,239.2 L280.5,240.2 L280.3,241.2 L280.1,242.1 L279.9,243.1 L279.7,244.1 L279.5,245.1 L279.2,246.1 L279,247 L278.8,248 L278.6,249 L278.3,250 L278,251 L277.7,252 L277.4,252.9 L277.1,253.9 L276.8,254.9 L274.5,254.9 Z" fill="#9F8DDF" stroke="#100c24" stroke-width="1.0" stroke-linejoin="miter"/>
<line x1="265.9" y1="192.2" x2="272.1" y2="192.2" stroke="#2a2a2a" stroke-width="0.9" stroke-dasharray="2 0.9"/>
<line x1="263.7" y1="219.4" x2="272.1" y2="219.4" stroke="#2a2a2a" stroke-width="0.9" stroke-dasharray="2 0.9"/>
<line x1="264.1" y1="229.2" x2="272.1" y2="229.2" stroke="#2a2a2a" stroke-width="0.9" stroke-dasharray="2 0.9"/>
<line x1="274.4" y1="197.7" x2="281.2" y2="197.7" stroke="#2a2a2a" stroke-width="0.9" stroke-dasharray="2 0.9"/>
<line x1="274.4" y1="222.3" x2="282.8" y2="222.3" stroke="#2a2a2a" stroke-width="0.9" stroke-dasharray="2 0.9"/>
<line x1="274.4" y1="231.6" x2="281.9" y2="231.6" stroke="#2a2a2a" stroke-width="0.9" stroke-dasharray="2 0.9"/>
<circle cx="268.2" cy="210.9" r="1.9" fill="#000"/>
<circle cx="277.7" cy="213.9" r="1.9" fill="#000"/>
<path d="M303.9,175.8 L299.5,175.8 L299.3,176.8 L299.1,177.8 L298.9,178.8 L298.7,179.7 L298.5,180.7 L298.4,181.7 L298.2,182.7 L298,183.7 L297.9,184.7 L297.7,185.6 L297.6,186.6 L297.5,187.6 L297.3,188.6 L297.2,189.6 L297,190.6 L296.9,191.5 L296.8,192.5 L296.7,193.5 L296.5,194.5 L296.4,195.5 L296.3,196.5 L296.2,197.4 L296.1,198.4 L296,199.4 L295.9,200.4 L295.8,201.4 L295.7,202.4 L295.6,203.4 L295.5,204.3 L295.4,205.3 L295.3,206.3 L295.2,207.3 L295.1,208.3 L295,209.3 L294.9,210.2 L294.9,211.2 L294.8,212.2 L294.7,213.2 L294.7,214.2 L294.6,215.2 L294.5,216.1 L294.5,217.1 L294.5,218.1 L294.5,219.1 L294.5,220.1 L294.5,221.1 L294.5,222 L294.5,223 L294.5,224 L294.6,225 L294.6,226 L294.7,227 L294.7,227.9 L294.8,228.9 L294.8,229.9 L294.9,230.9 L295,231.9 L295,232.9 L295.2,233.9 L295.3,234.8 L295.5,235.8 L295.8,236.8 L296,237.8 L296.3,238.8 L296.6,239.8 L296.8,240.7 L297.1,241.7 L297.4,242.7 L297.6,243.7 L297.9,244.7 L298.1,245.7 L298.3,246.6 L298.6,247.6 L298.8,248.6 L299,249.6 L299.2,250.6 L299.5,251.6 L299.7,252.5 L299.9,253.5 L300.2,254.5 L300.4,255.5 L303.9,255.5 Z" fill="#E1C96A" stroke="#111108" stroke-width="1.0" stroke-linejoin="miter"/>
<path d="M306.4,178.2 L309.8,178.2 L310,179.2 L310.2,180.2 L310.3,181.1 L310.5,182.1 L310.6,183.1 L310.7,184.1 L310.9,185 L311,186 L311.1,187 L311.3,188 L311.4,189 L311.5,189.9 L311.7,190.9 L311.8,191.9 L312,192.9 L312.1,193.9 L312.2,194.8 L312.4,195.8 L312.5,196.8 L312.6,197.8 L312.7,198.7 L312.8,199.7 L312.9,200.7 L313.1,201.7 L313.2,202.7 L313.3,203.6 L313.4,204.6 L313.5,205.6 L313.7,206.6 L313.8,207.6 L313.9,208.5 L314,209.5 L314.1,210.5 L314.3,211.5 L314.4,212.4 L314.4,213.4 L314.5,214.4 L314.6,215.4 L314.7,216.4 L314.7,217.3 L314.7,218.3 L314.8,219.3 L314.8,220.3 L314.8,221.3 L314.7,222.2 L314.7,223.2 L314.7,224.2 L314.7,225.2 L314.7,226.1 L314.6,227.1 L314.6,228.1 L314.6,229.1 L314.5,230.1 L314.5,231 L314.5,232 L314.4,233 L314.3,234 L314.2,235 L314,235.9 L313.8,236.9 L313.6,237.9 L313.4,238.9 L313.1,239.8 L312.9,240.8 L312.6,241.8 L312.4,242.8 L312.1,243.8 L311.9,244.7 L311.7,245.7 L311.5,246.7 L311.3,247.7 L311,248.7 L310.8,249.6 L310.6,250.6 L310.3,251.6 L310.1,252.6 L309.8,253.5 L309.5,254.5 L309.2,255.5 L306.4,255.5 Z" fill="#9F8DDF" stroke="#100c24" stroke-width="1.0" stroke-linejoin="miter"/>
<line x1="296.1" y1="199.3" x2="304" y2="199.3" stroke="#2a2a2a" stroke-width="0.9" stroke-dasharray="2 0.9"/>
<line x1="294.6" y1="221.4" x2="304" y2="221.4" stroke="#2a2a2a" stroke-width="0.9" stroke-dasharray="2 0.9"/>
<line x1="295.3" y1="234.2" x2="304" y2="234.2" stroke="#2a2a2a" stroke-width="0.9" stroke-dasharray="2 0.9"/>
<line x1="306.3" y1="204.6" x2="313.3" y2="204.6" stroke="#2a2a2a" stroke-width="0.9" stroke-dasharray="2 0.9"/>
<line x1="306.3" y1="225.3" x2="314.6" y2="225.3" stroke="#2a2a2a" stroke-width="0.9" stroke-dasharray="2 0.9"/>
<line x1="306.3" y1="235.5" x2="314" y2="235.5" stroke="#2a2a2a" stroke-width="0.9" stroke-dasharray="2 0.9"/>
<circle cx="300" cy="216.4" r="1.9" fill="#000"/>
<circle cx="309.8" cy="219.4" r="1.9" fill="#000"/>
<path d="M335.8,180.8 L332.4,180.8 L332.2,181.8 L332,182.8 L331.8,183.7 L331.6,184.7 L331.5,185.7 L331.3,186.7 L331.2,187.7 L331,188.7 L330.9,189.6 L330.7,190.6 L330.6,191.6 L330.4,192.6 L330.3,193.6 L330.1,194.6 L330,195.5 L329.8,196.5 L329.7,197.5 L329.5,198.5 L329.4,199.5 L329.3,200.5 L329.1,201.4 L329,202.4 L328.9,203.4 L328.7,204.4 L328.6,205.4 L328.5,206.4 L328.4,207.3 L328.3,208.3 L328.2,209.3 L328.1,210.3 L328,211.3 L328,212.3 L327.9,213.2 L327.8,214.2 L327.8,215.2 L327.7,216.2 L327.7,217.2 L327.6,218.2 L327.6,219.1 L327.5,220.1 L327.5,221.1 L327.4,222.1 L327.4,223.1 L327.4,224 L327.3,225 L327.3,226 L327.3,227 L327.3,228 L327.2,229 L327.2,229.9 L327.2,230.9 L327.2,231.9 L327.2,232.9 L327.1,233.9 L327.1,234.9 L327.2,235.8 L327.2,236.8 L327.3,237.8 L327.4,238.8 L327.5,239.8 L327.7,240.8 L327.8,241.7 L328,242.7 L328.2,243.7 L328.3,244.7 L328.4,245.7 L328.6,246.7 L328.7,247.6 L328.9,248.6 L329,249.6 L329.2,250.6 L329.3,251.6 L329.5,252.6 L329.6,253.5 L329.8,254.5 L330,255.5 L335.8,255.5 Z" fill="#E1C96A" stroke="#111108" stroke-width="1.0" stroke-linejoin="miter"/>
<path d="M338.3,183.1 L341.2,183.1 L341.4,184.1 L341.5,185.1 L341.7,186 L341.9,187 L342,188 L342.2,189 L342.3,189.9 L342.5,190.9 L342.6,191.9 L342.7,192.9 L342.9,193.9 L343,194.8 L343.1,195.8 L343.3,196.8 L343.4,197.8 L343.5,198.8 L343.7,199.7 L343.9,200.7 L344.1,201.7 L344.3,202.7 L344.5,203.6 L344.7,204.6 L344.9,205.6 L345.1,206.6 L345.3,207.6 L345.5,208.5 L345.6,209.5 L345.7,210.5 L345.8,211.5 L345.9,212.5 L345.9,213.4 L346,214.4 L346.1,215.4 L346.1,216.4 L346.2,217.3 L346.2,218.3 L346.3,219.3 L346.3,220.3 L346.4,221.3 L346.4,222.2 L346.5,223.2 L346.5,224.2 L346.5,225.2 L346.6,226.1 L346.6,227.1 L346.7,228.1 L346.7,229.1 L346.7,230.1 L346.8,231 L346.8,232 L346.8,233 L346.8,234 L346.8,235 L346.8,235.9 L346.8,236.9 L346.7,237.9 L346.6,238.9 L346.5,239.8 L346.3,240.8 L346.2,241.8 L346,242.8 L345.9,243.8 L345.8,244.7 L345.7,245.7 L345.5,246.7 L345.4,247.7 L345.3,248.7 L345.1,249.6 L345,250.6 L344.9,251.6 L344.7,252.6 L344.6,253.5 L344.5,254.5 L344.3,255.5 L338.3,255.5 Z" fill="#9F8DDF" stroke="#100c24" stroke-width="1.0" stroke-linejoin="miter"/>
<line x1="328.7" y1="205.3" x2="335.9" y2="205.3" stroke="#2a2a2a" stroke-width="0.9" stroke-dasharray="2 0.9"/>
<line x1="327.4" y1="226.1" x2="335.9" y2="226.1" stroke="#2a2a2a" stroke-width="0.9" stroke-dasharray="2 0.9"/>
<line x1="327.5" y1="238.6" x2="335.9" y2="238.6" stroke="#2a2a2a" stroke-width="0.9" stroke-dasharray="2 0.9"/>
<line x1="338.2" y1="208.8" x2="345.4" y2="208.8" stroke="#2a2a2a" stroke-width="0.9" stroke-dasharray="2 0.9"/>
<line x1="338.2" y1="229.3" x2="346.6" y2="229.3" stroke="#2a2a2a" stroke-width="0.9" stroke-dasharray="2 0.9"/>
<line x1="338.2" y1="238.6" x2="346.5" y2="238.6" stroke="#2a2a2a" stroke-width="0.9" stroke-dasharray="2 0.9"/>
<circle cx="331.8" cy="221.1" r="1.9" fill="#000"/>
<circle cx="341.7" cy="223.8" r="1.9" fill="#000"/>
<path d="M367.7,177.8 L366.3,177.8 L366.2,178.8 L366.2,179.8 L366.1,180.8 L366,181.7 L365.9,182.7 L365.8,183.7 L365.7,184.7 L365.6,185.7 L365.5,186.7 L365.4,187.7 L365.2,188.6 L365.1,189.6 L365,190.6 L364.8,191.6 L364.7,192.6 L364.5,193.6 L364.3,194.6 L364.1,195.5 L363.9,196.5 L363.7,197.5 L363.5,198.5 L363.3,199.5 L363.1,200.5 L362.9,201.5 L362.8,202.4 L362.6,203.4 L362.3,204.4 L362.1,205.4 L361.9,206.4 L361.7,207.4 L361.5,208.4 L361.3,209.3 L361.2,210.3 L361,211.3 L360.8,212.3 L360.6,213.3 L360.5,214.3 L360.3,215.3 L360.1,216.2 L360,217.2 L359.8,218.2 L359.6,219.2 L359.5,220.2 L359.3,221.2 L359.2,222.2 L359,223.1 L358.9,224.1 L358.7,225.1 L358.6,226.1 L358.4,227.1 L358.3,228.1 L358.2,229.1 L358.2,230 L358.2,231 L358.2,232 L358.2,233 L358.3,234 L358.3,235 L358.3,236 L358.3,236.9 L358.4,237.9 L358.4,238.9 L358.4,239.9 L358.5,240.9 L358.5,241.9 L358.6,242.9 L358.7,243.8 L358.8,244.8 L358.9,245.8 L359,246.8 L359.2,247.8 L359.3,248.8 L359.5,249.8 L359.7,250.7 L359.8,251.7 L360,252.7 L360.2,253.7 L367.7,253.7 Z" fill="#E1C96A" stroke="#111108" stroke-width="1.0" stroke-linejoin="miter"/>
<path d="M370.2,177.8 L371.7,177.8 L371.8,178.8 L371.8,179.8 L371.9,180.8 L372,181.7 L372.1,182.7 L372.1,183.7 L372.2,184.7 L372.3,185.7 L372.4,186.7 L372.5,187.7 L372.6,188.6 L372.7,189.6 L372.8,190.6 L373,191.6 L373.1,192.6 L373.2,193.6 L373.3,194.6 L373.5,195.5 L373.6,196.5 L373.8,197.5 L373.9,198.5 L374.1,199.5 L374.3,200.5 L374.6,201.5 L374.9,202.4 L375.3,203.4 L375.6,204.4 L376,205.4 L376.4,206.4 L376.8,207.4 L377.1,208.4 L377.4,209.3 L377.6,210.3 L377.7,211.3 L377.9,212.3 L378,213.3 L378.1,214.3 L378.2,215.3 L378.3,216.2 L378.4,217.2 L378.5,218.2 L378.6,219.2 L378.6,220.2 L378.7,221.2 L378.8,222.2 L379,223.1 L379.1,224.1 L379.2,225.1 L379.3,226.1 L379.4,227.1 L379.5,228.1 L379.6,229.1 L379.6,230 L379.6,231 L379.6,232 L379.6,233 L379.6,234 L379.6,235 L379.5,236 L379.5,236.9 L379.5,237.9 L379.5,238.9 L379.4,239.9 L379.4,240.9 L379.4,241.9 L379.3,242.9 L379.3,243.8 L379.2,244.8 L379.2,245.8 L379.1,246.8 L379,247.8 L379,248.8 L378.9,249.8 L378.8,250.7 L378.7,251.7 L378.6,252.7 L378.6,253.7 L370.2,253.7 Z" fill="#9F8DDF" stroke="#100c24" stroke-width="1.0" stroke-linejoin="miter"/>
<line x1="360.7" y1="213.2" x2="367.8" y2="213.2" stroke="#2a2a2a" stroke-width="0.9" stroke-dasharray="2 0.9"/>
<line x1="358.4" y1="236.6" x2="367.8" y2="236.6" stroke="#2a2a2a" stroke-width="0.9" stroke-dasharray="2 0.9"/>
<line x1="358.8" y1="244.5" x2="367.8" y2="244.5" stroke="#2a2a2a" stroke-width="0.9" stroke-dasharray="2 0.9"/>
<line x1="370.1" y1="215.5" x2="378.1" y2="215.5" stroke="#2a2a2a" stroke-width="0.9" stroke-dasharray="2 0.9"/>
<line x1="370.1" y1="238.6" x2="379.4" y2="238.6" stroke="#2a2a2a" stroke-width="0.9" stroke-dasharray="2 0.9"/>
<line x1="370.1" y1="246.4" x2="379" y2="246.4" stroke="#2a2a2a" stroke-width="0.9" stroke-dasharray="2 0.9"/>
<circle cx="363.9" cy="227.7" r="1.9" fill="#000"/>
<circle cx="373.6" cy="229.1" r="1.9" fill="#000"/>
<g stroke="#000" stroke-width="2" fill="none">
<line x1="60.3" y1="38.3" x2="60.3" y2="280.8"/>
<line x1="59.3" y1="279.8" x2="386.5" y2="279.8"/>
<line x1="55.8" y1="39.3" x2="60.3" y2="39.3"/>
<line x1="55.8" y1="159.6" x2="60.3" y2="159.6"/>
<line x1="55.8" y1="279.8" x2="60.3" y2="279.8"/>
<line x1="82" y1="279.8" x2="82" y2="284.6"/>
<line x1="113.9" y1="279.8" x2="113.9" y2="284.6"/>
<line x1="145.8" y1="279.8" x2="145.8" y2="284.6"/>
<line x1="177.6" y1="279.8" x2="177.6" y2="284.6"/>
<line x1="209.5" y1="279.8" x2="209.5" y2="284.6"/>
<line x1="241.4" y1="279.8" x2="241.4" y2="284.6"/>
<line x1="273.3" y1="279.8" x2="273.3" y2="284.6"/>
<line x1="305.2" y1="279.8" x2="305.2" y2="284.6"/>
<line x1="337" y1="279.8" x2="337" y2="284.6"/>
<line x1="368.9" y1="279.8" x2="368.9" y2="284.6"/>
</g>
<path d="M468.2,87.5 L468.2,88.4 L468.2,89.4 L468.2,90.4 L468.2,91.4 L468.2,92.4 L468.2,93.4 L468.3,94.4 L468.3,95.4 L468.3,96.4 L468.3,97.3 L468.3,98.3 L468.3,99.3 L468.3,100.3 L468.3,101.3 L468.3,102.3 L468.3,103.3 L468.3,104.3 L468.3,105.2 L468.3,106.2 L468.4,107.2 L468.4,108.2 L468.4,109.2 L468.4,110.2 L468.4,111.2 L468.4,112.2 L468.4,113.2 L468.4,114.2 L468.4,115.1 L468.4,116.1 L468.4,117.1 L468.4,118.1 L468.4,119.1 L468.5,120.1 L468.5,121.1 L468.5,122.1 L468.5,123.1 L468.5,124 L468.5,125 L468.5,126 L468.5,127 L468.5,128 L468.5,129 L468.6,130 L468.6,131 L468.6,132 L468.6,132.9 L468.6,133.9 L468.6,134.9 L468.7,135.9 L468.7,136.9 L468.7,137.9 L468.8,138.9 L468.8,139.9 L468.9,140.9 L468.9,141.8 L469,142.8 L469.1,143.8 L469.1,144.8 L469.2,145.8 L469.3,146.8 L469.3,147.8 L469.4,148.8 L469.5,149.8 L469.6,150.7 L469.7,151.7 L469.7,152.7 L469.8,153.7 L469.9,154.7 L470,155.7 L470,156.7 L470.1,157.7 L470.2,158.7 L470.3,159.6 L470.4,160.6 L470.4,161.6 L470.5,162.6 L470.6,163.6 L470.7,164.6 L470.8,165.6 L470.9,166.6 L471,167.6 L471.1,168.5 L471.2,169.5 L471.3,170.5 L471.4,171.5 L471.5,172.5 L471.5,173.5 L471.6,174.5 L471.7,175.5 L471.7,176.5 L471.8,177.4 L471.8,178.4 L471.9,179.4 L471.9,180.4 L471.9,181.4 L472,182.4 L472,183.4 L472,184.4 L472,185.4 L472.1,186.3 L472.1,187.3 L472.1,188.3 L472.1,189.3 L472.2,190.3 L472.2,191.3 L472.2,192.3 L472.2,193.3 L472.2,194.2 L472.2,195.2 L472.2,196.2 L472.2,197.2 L472.2,198.2 L472.2,199.2 L472.2,200.2 L472.2,201.2 L472.2,202.2 L472.2,203.2 L472.1,204.1 L472.1,205.1 L472.1,206.1 L472.1,207.1 L472.1,208.1 L472.1,209.1 L472.1,210.1 L472,211.1 L472,212.1 L472,213 L472,214 L471.9,215 L471.9,216 L471.9,217 L471.8,218 L471.7,219 L471.7,220 L471.6,221 L471.5,221.9 L471.5,222.9 L471.4,223.9 L471.3,224.9 L471.2,225.9 L471.1,226.9 L471,227.9 L471,228.9 L470.9,229.9 L470.8,230.8 L470.7,231.8 L470.6,232.8 L470.6,233.8 L470.5,234.8 L470.5,235.8 L470.4,236.8 L470.3,237.8 L470.3,238.8 L470.2,239.7 L470.2,240.7 L470.1,241.7 L470,242.7 L470,243.7 L469.9,244.7 L469.9,245.7 L469.8,246.7 L469.8,247.7 L469.7,248.6 L469.7,249.6 L469.6,250.6 L469.6,251.6 L469.5,252.6 L469.5,253.6 L469.4,254.6 L469.4,255.6 L469.3,256.6 L465.6,256.6 L465.5,255.6 L465.5,254.6 L465.4,253.6 L465.4,252.6 L465.3,251.6 L465.3,250.6 L465.2,249.6 L465.2,248.6 L465.1,247.7 L465.1,246.7 L465,245.7 L465,244.7 L464.9,243.7 L464.9,242.7 L464.8,241.7 L464.7,240.7 L464.7,239.7 L464.6,238.8 L464.6,237.8 L464.5,236.8 L464.4,235.8 L464.4,234.8 L464.3,233.8 L464.3,232.8 L464.2,231.8 L464.1,230.8 L464,229.9 L463.9,228.9 L463.9,227.9 L463.8,226.9 L463.7,225.9 L463.6,224.9 L463.5,223.9 L463.4,222.9 L463.4,221.9 L463.3,221 L463.2,220 L463.2,219 L463.1,218 L463,217 L463,216 L463,215 L462.9,214 L462.9,213 L462.9,212.1 L462.9,211.1 L462.8,210.1 L462.8,209.1 L462.8,208.1 L462.8,207.1 L462.8,206.1 L462.8,205.1 L462.8,204.1 L462.7,203.2 L462.7,202.2 L462.7,201.2 L462.7,200.2 L462.7,199.2 L462.7,198.2 L462.7,197.2 L462.7,196.2 L462.7,195.2 L462.7,194.2 L462.7,193.3 L462.7,192.3 L462.7,191.3 L462.7,190.3 L462.8,189.3 L462.8,188.3 L462.8,187.3 L462.8,186.3 L462.9,185.4 L462.9,184.4 L462.9,183.4 L462.9,182.4 L463,181.4 L463,180.4 L463,179.4 L463.1,178.4 L463.1,177.4 L463.2,176.5 L463.2,175.5 L463.3,174.5 L463.4,173.5 L463.4,172.5 L463.5,171.5 L463.6,170.5 L463.7,169.5 L463.8,168.5 L463.9,167.6 L464,166.6 L464.1,165.6 L464.2,164.6 L464.3,163.6 L464.4,162.6 L464.5,161.6 L464.5,160.6 L464.6,159.6 L464.7,158.7 L464.8,157.7 L464.9,156.7 L464.9,155.7 L465,154.7 L465.1,153.7 L465.2,152.7 L465.2,151.7 L465.3,150.7 L465.4,149.8 L465.5,148.8 L465.6,147.8 L465.6,146.8 L465.7,145.8 L465.8,144.8 L465.8,143.8 L465.9,142.8 L466,141.8 L466,140.9 L466.1,139.9 L466.1,138.9 L466.2,137.9 L466.2,136.9 L466.2,135.9 L466.3,134.9 L466.3,133.9 L466.3,132.9 L466.3,132 L466.3,131 L466.3,130 L466.4,129 L466.4,128 L466.4,127 L466.4,126 L466.4,125 L466.4,124 L466.4,123.1 L466.4,122.1 L466.4,121.1 L466.4,120.1 L466.5,119.1 L466.5,118.1 L466.5,117.1 L466.5,116.1 L466.5,115.1 L466.5,114.2 L466.5,113.2 L466.5,112.2 L466.5,111.2 L466.5,110.2 L466.5,109.2 L466.5,108.2 L466.5,107.2 L466.6,106.2 L466.6,105.2 L466.6,104.3 L466.6,103.3 L466.6,102.3 L466.6,101.3 L466.6,100.3 L466.6,99.3 L466.6,98.3 L466.6,97.3 L466.6,96.4 L466.6,95.4 L466.6,94.4 L466.7,93.4 L466.7,92.4 L466.7,91.4 L466.7,90.4 L466.7,89.4 L466.7,88.4 L466.7,87.5 Z" fill="#C6A9A0" stroke="#3d302e" stroke-width="0.9"/>
<line x1="463.1" y1="178.2" x2="471.8" y2="178.2" stroke="#3e302d" stroke-width="0.8"/>
<line x1="463" y1="213.5" x2="471.9" y2="213.5" stroke="#3e302d" stroke-width="0.8"/>
<line x1="462.8" y1="196.4" x2="472.1" y2="196.4" stroke="#1a1a1a" stroke-width="0.9" stroke-dasharray="1.3 0.9"/>
<ellipse cx="467.4" cy="191.8" rx="1.7" ry="2" fill="#000"/>
<path d="M489.8,87.9 L489.8,88.8 L489.8,89.8 L489.8,90.8 L489.8,91.8 L489.8,92.8 L489.8,93.8 L489.8,94.8 L489.8,95.8 L489.8,96.8 L489.8,97.8 L489.8,98.8 L489.8,99.7 L489.9,100.7 L489.9,101.7 L489.9,102.7 L489.9,103.7 L489.9,104.7 L489.9,105.7 L489.9,106.7 L489.9,107.7 L489.9,108.7 L489.9,109.7 L489.9,110.7 L489.9,111.6 L489.9,112.6 L489.9,113.6 L489.9,114.6 L490,115.6 L490,116.6 L490,117.6 L490,118.6 L490,119.6 L490,120.6 L490,121.6 L490,122.6 L490.1,123.5 L490.1,124.5 L490.1,125.5 L490.1,126.5 L490.2,127.5 L490.2,128.5 L490.2,129.5 L490.2,130.5 L490.3,131.5 L490.3,132.5 L490.3,133.5 L490.4,134.4 L490.4,135.4 L490.5,136.4 L490.5,137.4 L490.6,138.4 L490.6,139.4 L490.7,140.4 L490.7,141.4 L490.8,142.4 L490.9,143.4 L491,144.4 L491,145.4 L491.1,146.3 L491.2,147.3 L491.3,148.3 L491.4,149.3 L491.5,150.3 L491.6,151.3 L491.6,152.3 L491.7,153.3 L491.8,154.3 L491.9,155.3 L492,156.3 L492.1,157.3 L492.2,158.2 L492.3,159.2 L492.4,160.2 L492.5,161.2 L492.6,162.2 L492.7,163.2 L492.8,164.2 L492.9,165.2 L493,166.2 L493.1,167.2 L493.2,168.2 L493.3,169.1 L493.3,170.1 L493.4,171.1 L493.4,172.1 L493.4,173.1 L493.5,174.1 L493.5,175.1 L493.6,176.1 L493.6,177.1 L493.6,178.1 L493.7,179.1 L493.7,180.1 L493.7,181 L493.7,182 L493.8,183 L493.8,184 L493.8,185 L493.8,186 L493.8,187 L493.8,188 L493.8,189 L493.8,190 L493.8,191 L493.8,192 L493.8,192.9 L493.8,193.9 L493.8,194.9 L493.8,195.9 L493.8,196.9 L493.8,197.9 L493.7,198.9 L493.7,199.9 L493.7,200.9 L493.7,201.9 L493.6,202.9 L493.6,203.8 L493.6,204.8 L493.5,205.8 L493.5,206.8 L493.5,207.8 L493.4,208.8 L493.4,209.8 L493.4,210.8 L493.3,211.8 L493.3,212.8 L493.3,213.8 L493.2,214.8 L493.2,215.7 L493.2,216.7 L493.1,217.7 L493.1,218.7 L493,219.7 L493,220.7 L492.9,221.7 L492.9,222.7 L492.8,223.7 L492.8,224.7 L492.7,225.7 L492.7,226.7 L492.6,227.6 L492.6,228.6 L492.5,229.6 L492.4,230.6 L492.4,231.6 L492.3,232.6 L492.3,233.6 L492.2,234.6 L492.1,235.6 L492.1,236.6 L492,237.6 L491.9,238.6 L486.2,238.6 L486.1,237.6 L486,236.6 L486,235.6 L485.9,234.6 L485.8,233.6 L485.8,232.6 L485.7,231.6 L485.7,230.6 L485.6,229.6 L485.5,228.6 L485.5,227.6 L485.4,226.7 L485.4,225.7 L485.3,224.7 L485.3,223.7 L485.2,222.7 L485.2,221.7 L485.1,220.7 L485.1,219.7 L485,218.7 L485,217.7 L484.9,216.7 L484.9,215.7 L484.9,214.8 L484.8,213.8 L484.8,212.8 L484.8,211.8 L484.7,210.8 L484.7,209.8 L484.7,208.8 L484.6,207.8 L484.6,206.8 L484.6,205.8 L484.5,204.8 L484.5,203.8 L484.5,202.9 L484.4,201.9 L484.4,200.9 L484.4,199.9 L484.4,198.9 L484.3,197.9 L484.3,196.9 L484.3,195.9 L484.3,194.9 L484.3,193.9 L484.3,192.9 L484.3,192 L484.3,191 L484.3,190 L484.3,189 L484.3,188 L484.3,187 L484.3,186 L484.3,185 L484.3,184 L484.3,183 L484.4,182 L484.4,181 L484.4,180.1 L484.4,179.1 L484.5,178.1 L484.5,177.1 L484.5,176.1 L484.6,175.1 L484.6,174.1 L484.7,173.1 L484.7,172.1 L484.7,171.1 L484.8,170.1 L484.8,169.1 L484.9,168.2 L485,167.2 L485.1,166.2 L485.2,165.2 L485.3,164.2 L485.4,163.2 L485.5,162.2 L485.6,161.2 L485.7,160.2 L485.8,159.2 L485.9,158.2 L486,157.3 L486.1,156.3 L486.2,155.3 L486.3,154.3 L486.4,153.3 L486.5,152.3 L486.5,151.3 L486.6,150.3 L486.7,149.3 L486.8,148.3 L486.9,147.3 L487,146.3 L487.1,145.4 L487.1,144.4 L487.2,143.4 L487.3,142.4 L487.4,141.4 L487.4,140.4 L487.5,139.4 L487.5,138.4 L487.6,137.4 L487.6,136.4 L487.7,135.4 L487.7,134.4 L487.8,133.5 L487.8,132.5 L487.8,131.5 L487.9,130.5 L487.9,129.5 L487.9,128.5 L487.9,127.5 L488,126.5 L488,125.5 L488,124.5 L488,123.5 L488.1,122.6 L488.1,121.6 L488.1,120.6 L488.1,119.6 L488.1,118.6 L488.1,117.6 L488.1,116.6 L488.1,115.6 L488.2,114.6 L488.2,113.6 L488.2,112.6 L488.2,111.6 L488.2,110.7 L488.2,109.7 L488.2,108.7 L488.2,107.7 L488.2,106.7 L488.2,105.7 L488.2,104.7 L488.2,103.7 L488.2,102.7 L488.2,101.7 L488.2,100.7 L488.3,99.7 L488.3,98.8 L488.3,97.8 L488.3,96.8 L488.3,95.8 L488.3,94.8 L488.3,93.8 L488.3,92.8 L488.3,91.8 L488.3,90.8 L488.3,89.8 L488.3,88.8 L488.3,87.9 Z" fill="#C6A9A0" stroke="#3d302e" stroke-width="0.9"/>
<line x1="484.9" y1="170" x2="493.2" y2="170" stroke="#3e302d" stroke-width="0.8"/>
<line x1="484.7" y1="209" x2="493.4" y2="209" stroke="#3e302d" stroke-width="0.8"/>
<line x1="484.3" y1="191.4" x2="493.8" y2="191.4" stroke="#1a1a1a" stroke-width="0.9" stroke-dasharray="1.3 0.9"/>
<ellipse cx="489.1" cy="187.5" rx="1.7" ry="2" fill="#000"/>
<path d="M511.4,90 L511.4,91 L511.4,92 L511.4,93 L511.4,94 L511.5,95 L511.5,96 L511.5,97 L511.5,98 L511.5,99 L511.5,100 L511.5,101 L511.5,102 L511.5,103 L511.5,103.9 L511.5,104.9 L511.5,105.9 L511.5,106.9 L511.6,107.9 L511.6,108.9 L511.6,109.9 L511.6,110.9 L511.6,111.9 L511.6,112.9 L511.6,113.9 L511.6,114.9 L511.6,115.9 L511.6,116.8 L511.6,117.8 L511.6,118.8 L511.6,119.8 L511.7,120.8 L511.7,121.8 L511.7,122.8 L511.7,123.8 L511.7,124.8 L511.7,125.8 L511.8,126.8 L511.8,127.8 L511.8,128.8 L511.8,129.7 L511.9,130.7 L511.9,131.7 L511.9,132.7 L512,133.7 L512,134.7 L512,135.7 L512.1,136.7 L512.1,137.7 L512.2,138.7 L512.3,139.7 L512.4,140.7 L512.5,141.7 L512.6,142.6 L512.7,143.6 L512.8,144.6 L512.9,145.6 L513,146.6 L513.1,147.6 L513.2,148.6 L513.4,149.6 L513.5,150.6 L513.6,151.6 L513.7,152.6 L513.9,153.6 L514,154.6 L514.1,155.5 L514.2,156.5 L514.3,157.5 L514.4,158.5 L514.5,159.5 L514.6,160.5 L514.8,161.5 L514.9,162.5 L515,163.5 L515.1,164.5 L515.2,165.5 L515.4,166.5 L515.5,167.5 L515.6,168.4 L515.7,169.4 L515.8,170.4 L515.9,171.4 L516,172.4 L516,173.4 L516.1,174.4 L516.2,175.4 L516.2,176.4 L516.3,177.4 L516.3,178.4 L516.4,179.4 L516.4,180.4 L516.5,181.3 L516.5,182.3 L516.6,183.3 L516.6,184.3 L516.6,185.3 L516.7,186.3 L516.7,187.3 L516.7,188.3 L516.7,189.3 L516.7,190.3 L516.7,191.3 L516.7,192.3 L516.7,193.3 L516.6,194.2 L516.6,195.2 L516.6,196.2 L516.5,197.2 L516.5,198.2 L516.4,199.2 L516.3,200.2 L516.3,201.2 L516.2,202.2 L516.2,203.2 L516.1,204.2 L516,205.2 L516,206.2 L515.9,207.1 L515.8,208.1 L515.8,209.1 L515.7,210.1 L515.6,211.1 L515.6,212.1 L515.5,213.1 L515.4,214.1 L515.3,215.1 L515.3,216.1 L515.2,217.1 L515.1,218.1 L515,219.1 L514.9,220 L514.8,221 L514.7,222 L514.6,223 L514.5,224 L514.4,225 L514.3,226 L514.2,227 L514.1,228 L514,229 L513.9,230 L513.8,231 L513.7,232 L513.6,233 L507.7,233 L507.6,232 L507.5,231 L507.4,230 L507.3,229 L507.2,228 L507.1,227 L507,226 L506.9,225 L506.8,224 L506.7,223 L506.6,222 L506.5,221 L506.4,220 L506.3,219.1 L506.2,218.1 L506.1,217.1 L506,216.1 L506,215.1 L505.9,214.1 L505.8,213.1 L505.7,212.1 L505.7,211.1 L505.6,210.1 L505.5,209.1 L505.5,208.1 L505.4,207.1 L505.3,206.2 L505.3,205.2 L505.2,204.2 L505.1,203.2 L505.1,202.2 L505,201.2 L505,200.2 L504.9,199.2 L504.8,198.2 L504.8,197.2 L504.7,196.2 L504.7,195.2 L504.7,194.2 L504.6,193.3 L504.6,192.3 L504.6,191.3 L504.6,190.3 L504.6,189.3 L504.6,188.3 L504.6,187.3 L504.6,186.3 L504.7,185.3 L504.7,184.3 L504.7,183.3 L504.8,182.3 L504.8,181.3 L504.9,180.4 L504.9,179.4 L505,178.4 L505,177.4 L505.1,176.4 L505.1,175.4 L505.2,174.4 L505.3,173.4 L505.3,172.4 L505.4,171.4 L505.5,170.4 L505.6,169.4 L505.7,168.4 L505.8,167.5 L505.9,166.5 L506.1,165.5 L506.2,164.5 L506.3,163.5 L506.4,162.5 L506.5,161.5 L506.7,160.5 L506.8,159.5 L506.9,158.5 L507,157.5 L507.1,156.5 L507.2,155.5 L507.3,154.6 L507.4,153.6 L507.6,152.6 L507.7,151.6 L507.8,150.6 L507.9,149.6 L508.1,148.6 L508.2,147.6 L508.3,146.6 L508.4,145.6 L508.5,144.6 L508.6,143.6 L508.7,142.6 L508.8,141.7 L508.9,140.7 L509,139.7 L509.1,138.7 L509.2,137.7 L509.2,136.7 L509.3,135.7 L509.3,134.7 L509.3,133.7 L509.4,132.7 L509.4,131.7 L509.4,130.7 L509.5,129.7 L509.5,128.8 L509.5,127.8 L509.5,126.8 L509.6,125.8 L509.6,124.8 L509.6,123.8 L509.6,122.8 L509.6,121.8 L509.6,120.8 L509.7,119.8 L509.7,118.8 L509.7,117.8 L509.7,116.8 L509.7,115.9 L509.7,114.9 L509.7,113.9 L509.7,112.9 L509.7,111.9 L509.7,110.9 L509.7,109.9 L509.7,108.9 L509.7,107.9 L509.8,106.9 L509.8,105.9 L509.8,104.9 L509.8,103.9 L509.8,103 L509.8,102 L509.8,101 L509.8,100 L509.8,99 L509.8,98 L509.8,97 L509.8,96 L509.8,95 L509.9,94 L509.9,93 L509.9,92 L509.9,91 L509.9,90 Z" fill="#C6A9A0" stroke="#3d302e" stroke-width="0.9"/>
<line x1="505.2" y1="174.4" x2="516" y2="174.4" stroke="#3e302d" stroke-width="0.8"/>
<line x1="505.3" y1="205.3" x2="516" y2="205.3" stroke="#3e302d" stroke-width="0.8"/>
<line x1="504.7" y1="189.4" x2="516.6" y2="189.4" stroke="#1a1a1a" stroke-width="0.9" stroke-dasharray="1.3 0.9"/>
<ellipse cx="510.6" cy="185.6" rx="1.7" ry="2" fill="#000"/>
<path d="M533,94 L533,95 L533,96 L533,97 L533,98 L533,99 L533,100 L533.1,101 L533.1,102 L533.1,102.9 L533.1,103.9 L533.1,104.9 L533.1,105.9 L533.1,106.9 L533.1,107.9 L533.1,108.9 L533.1,109.9 L533.2,110.9 L533.2,111.8 L533.2,112.8 L533.2,113.8 L533.2,114.8 L533.2,115.8 L533.2,116.8 L533.2,117.8 L533.2,118.8 L533.2,119.7 L533.3,120.7 L533.3,121.7 L533.3,122.7 L533.3,123.7 L533.3,124.7 L533.3,125.7 L533.3,126.7 L533.3,127.7 L533.3,128.6 L533.4,129.6 L533.4,130.6 L533.4,131.6 L533.4,132.6 L533.4,133.6 L533.4,134.6 L533.5,135.6 L533.5,136.6 L533.6,137.5 L533.6,138.5 L533.7,139.5 L533.8,140.5 L533.9,141.5 L534.1,142.5 L534.2,143.5 L534.4,144.5 L534.5,145.4 L534.7,146.4 L534.8,147.4 L535,148.4 L535.2,149.4 L535.3,150.4 L535.5,151.4 L535.7,152.4 L535.8,153.4 L536,154.3 L536.1,155.3 L536.3,156.3 L536.4,157.3 L536.6,158.3 L536.7,159.3 L536.8,160.3 L537,161.3 L537.1,162.2 L537.3,163.2 L537.5,164.2 L537.6,165.2 L537.8,166.2 L537.9,167.2 L538.1,168.2 L538.2,169.2 L538.4,170.2 L538.5,171.1 L538.6,172.1 L538.7,173.1 L538.9,174.1 L539,175.1 L539.1,176.1 L539.2,177.1 L539.3,178.1 L539.3,179.1 L539.4,180 L539.5,181 L539.6,182 L539.6,183 L539.7,184 L539.7,185 L539.7,186 L539.7,187 L539.6,187.9 L539.6,188.9 L539.6,189.9 L539.5,190.9 L539.4,191.9 L539.4,192.9 L539.3,193.9 L539.2,194.9 L539.1,195.9 L539.1,196.8 L539,197.8 L538.9,198.8 L538.8,199.8 L538.7,200.8 L538.7,201.8 L538.6,202.8 L538.5,203.8 L538.4,204.7 L538.3,205.7 L538.2,206.7 L538.1,207.7 L538,208.7 L537.8,209.7 L537.7,210.7 L537.6,211.7 L537.5,212.7 L537.3,213.6 L537.2,214.6 L537,215.6 L536.9,216.6 L536.7,217.6 L536.6,218.6 L536.4,219.6 L536.3,220.6 L536.1,221.6 L528.4,221.6 L528.2,220.6 L528.1,219.6 L527.9,218.6 L527.8,217.6 L527.6,216.6 L527.5,215.6 L527.3,214.6 L527.2,213.6 L527,212.7 L526.9,211.7 L526.8,210.7 L526.7,209.7 L526.5,208.7 L526.4,207.7 L526.3,206.7 L526.2,205.7 L526.1,204.7 L526,203.8 L525.9,202.8 L525.8,201.8 L525.8,200.8 L525.7,199.8 L525.6,198.8 L525.5,197.8 L525.4,196.8 L525.4,195.9 L525.3,194.9 L525.2,193.9 L525.1,192.9 L525.1,191.9 L525,190.9 L524.9,189.9 L524.9,188.9 L524.9,187.9 L524.8,187 L524.8,186 L524.8,185 L524.8,184 L524.9,183 L524.9,182 L525,181 L525.1,180 L525.2,179.1 L525.2,178.1 L525.3,177.1 L525.4,176.1 L525.5,175.1 L525.6,174.1 L525.8,173.1 L525.9,172.1 L526,171.1 L526.1,170.2 L526.3,169.2 L526.4,168.2 L526.6,167.2 L526.7,166.2 L526.9,165.2 L527,164.2 L527.2,163.2 L527.4,162.2 L527.5,161.3 L527.7,160.3 L527.8,159.3 L527.9,158.3 L528.1,157.3 L528.2,156.3 L528.4,155.3 L528.5,154.3 L528.7,153.4 L528.8,152.4 L529,151.4 L529.2,150.4 L529.3,149.4 L529.5,148.4 L529.7,147.4 L529.8,146.4 L530,145.4 L530.1,144.5 L530.3,143.5 L530.4,142.5 L530.6,141.5 L530.7,140.5 L530.8,139.5 L530.9,138.5 L530.9,137.5 L531,136.6 L531,135.6 L531.1,134.6 L531.1,133.6 L531.1,132.6 L531.1,131.6 L531.1,130.6 L531.1,129.6 L531.2,128.6 L531.2,127.7 L531.2,126.7 L531.2,125.7 L531.2,124.7 L531.2,123.7 L531.2,122.7 L531.2,121.7 L531.2,120.7 L531.3,119.7 L531.3,118.8 L531.3,117.8 L531.3,116.8 L531.3,115.8 L531.3,114.8 L531.3,113.8 L531.3,112.8 L531.3,111.8 L531.3,110.9 L531.4,109.9 L531.4,108.9 L531.4,107.9 L531.4,106.9 L531.4,105.9 L531.4,104.9 L531.4,103.9 L531.4,102.9 L531.4,102 L531.4,101 L531.5,100 L531.5,99 L531.5,98 L531.5,97 L531.5,96 L531.5,95 L531.5,94 Z" fill="#C6A9A0" stroke="#3d302e" stroke-width="0.9"/>
<line x1="525.4" y1="177.4" x2="539.1" y2="177.4" stroke="#3e302d" stroke-width="0.8"/>
<line x1="525.5" y1="196.4" x2="539" y2="196.4" stroke="#3e302d" stroke-width="0.8"/>
<line x1="524.9" y1="187" x2="539.6" y2="187" stroke="#1a1a1a" stroke-width="0.9" stroke-dasharray="1.3 0.9"/>
<ellipse cx="532.2" cy="182" rx="1.7" ry="2" fill="#000"/>
<path d="M554.6,94.7 L554.6,95.6 L554.6,96.6 L554.6,97.6 L554.6,98.6 L554.6,99.6 L554.6,100.6 L554.7,101.6 L554.7,102.6 L554.7,103.6 L554.7,104.6 L554.7,105.5 L554.7,106.5 L554.7,107.5 L554.7,108.5 L554.7,109.5 L554.7,110.5 L554.7,111.5 L554.8,112.5 L554.8,113.5 L554.8,114.5 L554.8,115.5 L554.8,116.4 L554.8,117.4 L554.8,118.4 L554.8,119.4 L554.9,120.4 L554.9,121.4 L554.9,122.4 L554.9,123.4 L554.9,124.4 L554.9,125.4 L554.9,126.4 L554.9,127.3 L555,128.3 L555,129.3 L555,130.3 L555,131.3 L555,132.3 L555.1,133.3 L555.1,134.3 L555.1,135.3 L555.2,136.3 L555.2,137.3 L555.3,138.2 L555.4,139.2 L555.5,140.2 L555.6,141.2 L555.7,142.2 L555.9,143.2 L556,144.2 L556.2,145.2 L556.3,146.2 L556.5,147.2 L556.7,148.2 L556.9,149.1 L557,150.1 L557.2,151.1 L557.4,152.1 L557.6,153.1 L557.7,154.1 L557.9,155.1 L558.1,156.1 L558.2,157.1 L558.4,158.1 L558.6,159 L558.7,160 L558.9,161 L559.1,162 L559.3,163 L559.5,164 L559.7,165 L559.9,166 L560.1,167 L560.3,168 L560.5,169 L560.7,169.9 L560.8,170.9 L560.9,171.9 L561,172.9 L561.1,173.9 L561.2,174.9 L561.2,175.9 L561.3,176.9 L561.3,177.9 L561.3,178.9 L561.4,179.9 L561.4,180.8 L561.4,181.8 L561.4,182.8 L561.4,183.8 L561.4,184.8 L561.3,185.8 L561.3,186.8 L561.3,187.8 L561.2,188.8 L561.2,189.8 L561.1,190.8 L561.1,191.7 L561,192.7 L561,193.7 L560.9,194.7 L560.9,195.7 L560.8,196.7 L560.7,197.7 L560.6,198.7 L560.5,199.7 L560.4,200.7 L560.3,201.7 L560.2,202.6 L560.1,203.6 L559.9,204.6 L559.8,205.6 L559.7,206.6 L559.5,207.6 L559.3,208.6 L559.1,209.6 L558.9,210.6 L558.7,211.6 L558.5,212.6 L549.2,212.6 L549,211.6 L548.8,210.6 L548.6,209.6 L548.4,208.6 L548.2,207.6 L548,206.6 L547.9,205.6 L547.8,204.6 L547.6,203.6 L547.5,202.6 L547.4,201.7 L547.3,200.7 L547.2,199.7 L547.1,198.7 L547,197.7 L546.9,196.7 L546.8,195.7 L546.8,194.7 L546.7,193.7 L546.7,192.7 L546.6,191.7 L546.6,190.8 L546.5,189.8 L546.5,188.8 L546.4,187.8 L546.4,186.8 L546.4,185.8 L546.3,184.8 L546.3,183.8 L546.3,182.8 L546.3,181.8 L546.3,180.8 L546.3,179.9 L546.4,178.9 L546.4,177.9 L546.4,176.9 L546.5,175.9 L546.5,174.9 L546.6,173.9 L546.7,172.9 L546.8,171.9 L546.9,170.9 L547,169.9 L547.2,169 L547.4,168 L547.6,167 L547.8,166 L548,165 L548.2,164 L548.4,163 L548.6,162 L548.8,161 L549,160 L549.1,159 L549.3,158.1 L549.5,157.1 L549.6,156.1 L549.8,155.1 L550,154.1 L550.1,153.1 L550.3,152.1 L550.5,151.1 L550.7,150.1 L550.8,149.1 L551,148.2 L551.2,147.2 L551.4,146.2 L551.5,145.2 L551.7,144.2 L551.8,143.2 L552,142.2 L552.1,141.2 L552.2,140.2 L552.3,139.2 L552.4,138.2 L552.5,137.3 L552.5,136.3 L552.6,135.3 L552.6,134.3 L552.6,133.3 L552.7,132.3 L552.7,131.3 L552.7,130.3 L552.7,129.3 L552.7,128.3 L552.8,127.3 L552.8,126.4 L552.8,125.4 L552.8,124.4 L552.8,123.4 L552.8,122.4 L552.8,121.4 L552.8,120.4 L552.9,119.4 L552.9,118.4 L552.9,117.4 L552.9,116.4 L552.9,115.5 L552.9,114.5 L552.9,113.5 L552.9,112.5 L553,111.5 L553,110.5 L553,109.5 L553,108.5 L553,107.5 L553,106.5 L553,105.5 L553,104.6 L553,103.6 L553,102.6 L553,101.6 L553.1,100.6 L553.1,99.6 L553.1,98.6 L553.1,97.6 L553.1,96.6 L553.1,95.6 L553.1,94.7 Z" fill="#C6A9A0" stroke="#3d302e" stroke-width="0.9"/>
<line x1="546.6" y1="175" x2="561.1" y2="175" stroke="#3e302d" stroke-width="0.8"/>
<line x1="546.8" y1="194" x2="560.9" y2="194" stroke="#3e302d" stroke-width="0.8"/>
<line x1="546.4" y1="182.4" x2="561.3" y2="182.4" stroke="#1a1a1a" stroke-width="0.9" stroke-dasharray="1.3 0.9"/>
<ellipse cx="553.9" cy="179" rx="1.7" ry="2" fill="#000"/>
<path d="M576.2,98 L576.2,99 L576.2,100 L576.2,101 L576.2,102 L576.2,103 L576.2,104 L576.2,105 L576.2,106 L576.2,107 L576.2,108 L576.2,108.9 L576.2,109.9 L576.2,110.9 L576.2,111.9 L576.2,112.9 L576.2,113.9 L576.2,114.9 L576.2,115.9 L576.2,116.9 L576.2,117.9 L576.2,118.9 L576.2,119.8 L576.2,120.8 L576.2,121.8 L576.2,122.8 L576.2,123.8 L576.2,124.8 L576.3,125.8 L576.3,126.8 L576.3,127.8 L576.4,128.8 L576.4,129.8 L576.4,130.7 L576.5,131.7 L576.5,132.7 L576.5,133.7 L576.6,134.7 L576.7,135.7 L576.8,136.7 L576.9,137.7 L577.1,138.7 L577.2,139.7 L577.4,140.7 L577.6,141.6 L577.7,142.6 L577.9,143.6 L578.1,144.6 L578.3,145.6 L578.5,146.6 L578.7,147.6 L578.9,148.6 L579,149.6 L579.2,150.6 L579.4,151.6 L579.6,152.5 L579.8,153.5 L580,154.5 L580.2,155.5 L580.4,156.5 L580.6,157.5 L580.8,158.5 L581,159.5 L581.2,160.5 L581.4,161.5 L581.6,162.5 L581.8,163.4 L581.9,164.4 L582,165.4 L582.1,166.4 L582.3,167.4 L582.4,168.4 L582.4,169.4 L582.5,170.4 L582.6,171.4 L582.6,172.4 L582.6,173.4 L582.7,174.3 L582.7,175.3 L582.7,176.3 L582.7,177.3 L582.7,178.3 L582.7,179.3 L582.6,180.3 L582.5,181.3 L582.5,182.3 L582.3,183.3 L582.2,184.3 L582.1,185.2 L582,186.2 L581.8,187.2 L581.7,188.2 L581.6,189.2 L581.4,190.2 L581.3,191.2 L581.2,192.2 L581.2,193.2 L581.1,194.2 L581,195.2 L580.9,196.1 L580.9,197.1 L580.8,198.1 L580.7,199.1 L580.7,200.1 L580.6,201.1 L580.5,202.1 L580.5,203.1 L580.4,204.1 L580.3,205.1 L580.2,206.1 L580.1,207 L580,208 L579.9,209 L579.7,210 L579.6,211 L579.5,212 L579.4,213 L579.2,214 L579.1,215 L578.9,216 L578.8,217 L572.1,217 L572,216 L571.8,215 L571.7,214 L571.5,213 L571.4,212 L571.3,211 L571.2,210 L571,209 L570.9,208 L570.8,207 L570.7,206.1 L570.6,205.1 L570.5,204.1 L570.4,203.1 L570.4,202.1 L570.3,201.1 L570.2,200.1 L570.2,199.1 L570.1,198.1 L570,197.1 L570,196.1 L569.9,195.2 L569.8,194.2 L569.7,193.2 L569.7,192.2 L569.6,191.2 L569.5,190.2 L569.3,189.2 L569.2,188.2 L569.1,187.2 L568.9,186.2 L568.8,185.2 L568.7,184.3 L568.6,183.3 L568.4,182.3 L568.4,181.3 L568.3,180.3 L568.2,179.3 L568.2,178.3 L568.2,177.3 L568.2,176.3 L568.2,175.3 L568.2,174.3 L568.3,173.4 L568.3,172.4 L568.3,171.4 L568.4,170.4 L568.5,169.4 L568.5,168.4 L568.6,167.4 L568.8,166.4 L568.9,165.4 L569,164.4 L569.1,163.4 L569.3,162.5 L569.5,161.5 L569.7,160.5 L569.9,159.5 L570.1,158.5 L570.3,157.5 L570.5,156.5 L570.7,155.5 L570.9,154.5 L571.1,153.5 L571.3,152.5 L571.5,151.6 L571.7,150.6 L571.9,149.6 L572,148.6 L572.2,147.6 L572.4,146.6 L572.6,145.6 L572.8,144.6 L573,143.6 L573.2,142.6 L573.3,141.6 L573.5,140.7 L573.7,139.7 L573.8,138.7 L574,137.7 L574.1,136.7 L574.2,135.7 L574.3,134.7 L574.4,133.7 L574.4,132.7 L574.4,131.7 L574.5,130.7 L574.5,129.8 L574.5,128.8 L574.6,127.8 L574.6,126.8 L574.6,125.8 L574.7,124.8 L574.7,123.8 L574.7,122.8 L574.7,121.8 L574.7,120.8 L574.7,119.8 L574.7,118.9 L574.7,117.9 L574.7,116.9 L574.7,115.9 L574.7,114.9 L574.7,113.9 L574.7,112.9 L574.7,111.9 L574.7,110.9 L574.7,109.9 L574.7,108.9 L574.7,108 L574.7,107 L574.7,106 L574.7,105 L574.7,104 L574.7,103 L574.7,102 L574.7,101 L574.7,100 L574.7,99 L574.7,98 Z" fill="#C6A9A0" stroke="#3d302e" stroke-width="0.9"/>
<line x1="568.8" y1="166.2" x2="582.1" y2="166.2" stroke="#3e302d" stroke-width="0.8"/>
<line x1="569.7" y1="192.4" x2="581.2" y2="192.4" stroke="#3e302d" stroke-width="0.8"/>
<line x1="568.3" y1="172.5" x2="582.6" y2="172.5" stroke="#1a1a1a" stroke-width="0.9" stroke-dasharray="1.3 0.9"/>
<ellipse cx="575.5" cy="175.5" rx="1.7" ry="2" fill="#000"/>
<path d="M597.8,96.9 L597.8,97.8 L597.8,98.8 L597.8,99.8 L597.8,100.8 L597.8,101.8 L597.8,102.8 L597.8,103.7 L597.8,104.7 L597.8,105.7 L597.8,106.7 L597.9,107.7 L597.9,108.7 L597.9,109.7 L597.9,110.6 L597.9,111.6 L597.9,112.6 L597.9,113.6 L597.9,114.6 L597.9,115.6 L598,116.6 L598,117.5 L598,118.5 L598,119.5 L598,120.5 L598,121.5 L598.1,122.5 L598.1,123.4 L598.1,124.4 L598.1,125.4 L598.2,126.4 L598.2,127.4 L598.3,128.4 L598.3,129.4 L598.4,130.3 L598.4,131.3 L598.5,132.3 L598.5,133.3 L598.6,134.3 L598.7,135.3 L598.8,136.3 L598.8,137.2 L598.9,138.2 L599,139.2 L599.1,140.2 L599.2,141.2 L599.4,142.2 L599.5,143.1 L599.7,144.1 L599.9,145.1 L600.1,146.1 L600.3,147.1 L600.4,148.1 L600.6,149.1 L600.8,150 L600.9,151 L601,152 L601.2,153 L601.3,154 L601.4,155 L601.5,156 L601.7,156.9 L601.8,157.9 L601.9,158.9 L602.1,159.9 L602.3,160.9 L602.5,161.9 L602.7,162.8 L602.9,163.8 L603,164.8 L603.1,165.8 L603.1,166.8 L603.2,167.8 L603.2,168.8 L603.3,169.7 L603.3,170.7 L603.4,171.7 L603.4,172.7 L603.4,173.7 L603.5,174.7 L603.5,175.7 L603.5,176.6 L603.5,177.6 L603.5,178.6 L603.5,179.6 L603.4,180.6 L603.4,181.6 L603.3,182.5 L603.2,183.5 L603.1,184.5 L603,185.5 L602.9,186.5 L602.8,187.5 L602.7,188.5 L602.6,189.4 L602.6,190.4 L602.5,191.4 L602.4,192.4 L602.3,193.4 L602.3,194.4 L602.2,195.4 L602.1,196.3 L602,197.3 L601.9,198.3 L601.9,199.3 L601.8,200.3 L601.7,201.3 L601.6,202.2 L601.5,203.2 L601.5,204.2 L601.4,205.2 L601.3,206.2 L601.2,207.2 L601.1,208.2 L601.1,209.1 L601,210.1 L600.9,211.1 L600.8,212.1 L600.7,213.1 L600.6,214.1 L600.5,215.1 L600.5,216 L600.4,217 L600.3,218 L600.2,219 L600.1,220 L600,221 L599.9,222 L594.2,222 L594.1,221 L594,220 L593.9,219 L593.8,218 L593.7,217 L593.6,216 L593.6,215.1 L593.5,214.1 L593.4,213.1 L593.3,212.1 L593.2,211.1 L593.1,210.1 L593,209.1 L593,208.2 L592.9,207.2 L592.8,206.2 L592.7,205.2 L592.6,204.2 L592.6,203.2 L592.5,202.2 L592.4,201.3 L592.3,200.3 L592.2,199.3 L592.2,198.3 L592.1,197.3 L592,196.3 L591.9,195.4 L591.8,194.4 L591.8,193.4 L591.7,192.4 L591.6,191.4 L591.5,190.4 L591.5,189.4 L591.4,188.5 L591.3,187.5 L591.2,186.5 L591.1,185.5 L591,184.5 L590.9,183.5 L590.8,182.5 L590.7,181.6 L590.7,180.6 L590.6,179.6 L590.6,178.6 L590.6,177.6 L590.6,176.6 L590.6,175.7 L590.6,174.7 L590.7,173.7 L590.7,172.7 L590.7,171.7 L590.8,170.7 L590.8,169.7 L590.9,168.8 L590.9,167.8 L591,166.8 L591,165.8 L591.1,164.8 L591.2,163.8 L591.4,162.8 L591.6,161.9 L591.8,160.9 L592,159.9 L592.2,158.9 L592.3,157.9 L592.4,156.9 L592.6,156 L592.7,155 L592.8,154 L592.9,153 L593.1,152 L593.2,151 L593.3,150 L593.5,149.1 L593.7,148.1 L593.8,147.1 L594,146.1 L594.2,145.1 L594.4,144.1 L594.6,143.1 L594.7,142.2 L594.9,141.2 L595,140.2 L595.1,139.2 L595.2,138.2 L595.3,137.2 L595.3,136.3 L595.4,135.3 L595.5,134.3 L595.6,133.3 L595.6,132.3 L595.7,131.3 L595.7,130.3 L595.8,129.4 L595.8,128.4 L595.9,127.4 L595.9,126.4 L596,125.4 L596,124.4 L596,123.4 L596,122.5 L596.1,121.5 L596.1,120.5 L596.1,119.5 L596.1,118.5 L596.1,117.5 L596.1,116.6 L596.2,115.6 L596.2,114.6 L596.2,113.6 L596.2,112.6 L596.2,111.6 L596.2,110.6 L596.2,109.7 L596.2,108.7 L596.2,107.7 L596.3,106.7 L596.3,105.7 L596.3,104.7 L596.3,103.7 L596.3,102.8 L596.3,101.8 L596.3,100.8 L596.3,99.8 L596.3,98.8 L596.3,97.8 L596.3,96.9 Z" fill="#C6A9A0" stroke="#3d302e" stroke-width="0.9"/>
<line x1="591.2" y1="164.7" x2="602.9" y2="164.7" stroke="#3e302d" stroke-width="0.8"/>
<line x1="591.4" y1="188" x2="602.7" y2="188" stroke="#3e302d" stroke-width="0.8"/>
<line x1="590.7" y1="177.5" x2="603.4" y2="177.5" stroke="#1a1a1a" stroke-width="0.9" stroke-dasharray="1.3 0.9"/>
<ellipse cx="597" cy="174" rx="1.7" ry="2" fill="#000"/>
<path d="M619.4,77.9 L619.4,78.8 L619.4,79.8 L619.4,80.8 L619.4,81.8 L619.4,82.8 L619.4,83.8 L619.4,84.8 L619.4,85.7 L619.4,86.7 L619.4,87.7 L619.4,88.7 L619.4,89.7 L619.4,90.7 L619.4,91.7 L619.5,92.7 L619.5,93.6 L619.5,94.6 L619.5,95.6 L619.5,96.6 L619.5,97.6 L619.5,98.6 L619.5,99.6 L619.5,100.6 L619.5,101.5 L619.5,102.5 L619.5,103.5 L619.5,104.5 L619.5,105.5 L619.6,106.5 L619.6,107.5 L619.6,108.5 L619.6,109.4 L619.6,110.4 L619.6,111.4 L619.6,112.4 L619.6,113.4 L619.6,114.4 L619.7,115.4 L619.7,116.3 L619.7,117.3 L619.7,118.3 L619.7,119.3 L619.8,120.3 L619.8,121.3 L619.8,122.3 L619.9,123.3 L619.9,124.2 L620,125.2 L620.1,126.2 L620.1,127.2 L620.2,128.2 L620.3,129.2 L620.4,130.2 L620.5,131.2 L620.6,132.1 L620.7,133.1 L620.8,134.1 L620.9,135.1 L621,136.1 L621.1,137.1 L621.2,138.1 L621.3,139.1 L621.4,140 L621.5,141 L621.6,142 L621.7,143 L621.8,144 L621.9,145 L622,146 L622.1,147 L622.2,147.9 L622.3,148.9 L622.4,149.9 L622.5,150.9 L622.6,151.9 L622.7,152.9 L622.8,153.9 L622.9,154.8 L623,155.8 L623.1,156.8 L623.2,157.8 L623.3,158.8 L623.4,159.8 L623.5,160.8 L623.6,161.8 L623.7,162.7 L623.7,163.7 L623.8,164.7 L623.9,165.7 L623.9,166.7 L624,167.7 L624.1,168.7 L624.1,169.7 L624.2,170.6 L624.2,171.6 L624.3,172.6 L624.3,173.6 L624.3,174.6 L624.3,175.6 L624.3,176.6 L624.3,177.6 L624.3,178.5 L624.3,179.5 L624.3,180.5 L624.3,181.5 L624.2,182.5 L624.2,183.5 L624.2,184.5 L624.2,185.5 L624.2,186.4 L624.1,187.4 L624.1,188.4 L624,189.4 L624,190.4 L623.9,191.4 L623.8,192.4 L623.8,193.3 L623.7,194.3 L623.7,195.3 L623.6,196.3 L623.6,197.3 L623.5,198.3 L623.5,199.3 L623.5,200.3 L623.4,201.2 L623.4,202.2 L623.3,203.2 L623.2,204.2 L623.2,205.2 L623.1,206.2 L623.1,207.2 L623,208.2 L622.9,209.1 L622.8,210.1 L622.8,211.1 L622.7,212.1 L622.6,213.1 L622.5,214.1 L622.4,215.1 L622.3,216.1 L622.2,217 L622.1,218 L622,219 L621.9,220 L621.8,221 L621.7,222 L621.6,223 L621.5,224 L615.8,224 L615.7,223 L615.6,222 L615.5,221 L615.4,220 L615.3,219 L615.2,218 L615.1,217 L615,216.1 L614.9,215.1 L614.8,214.1 L614.7,213.1 L614.6,212.1 L614.5,211.1 L614.5,210.1 L614.4,209.1 L614.3,208.2 L614.2,207.2 L614.2,206.2 L614.1,205.2 L614.1,204.2 L614,203.2 L613.9,202.2 L613.9,201.2 L613.8,200.3 L613.8,199.3 L613.8,198.3 L613.7,197.3 L613.7,196.3 L613.6,195.3 L613.6,194.3 L613.5,193.3 L613.5,192.4 L613.4,191.4 L613.3,190.4 L613.3,189.4 L613.2,188.4 L613.2,187.4 L613.1,186.4 L613.1,185.5 L613.1,184.5 L613.1,183.5 L613.1,182.5 L613,181.5 L613,180.5 L613,179.5 L613,178.5 L613,177.6 L613,176.6 L613,175.6 L613,174.6 L613,173.6 L613,172.6 L613.1,171.6 L613.1,170.6 L613.2,169.7 L613.2,168.7 L613.3,167.7 L613.4,166.7 L613.4,165.7 L613.5,164.7 L613.6,163.7 L613.6,162.7 L613.7,161.8 L613.8,160.8 L613.9,159.8 L614,158.8 L614.1,157.8 L614.2,156.8 L614.3,155.8 L614.4,154.8 L614.5,153.9 L614.6,152.9 L614.7,151.9 L614.8,150.9 L614.9,149.9 L615,148.9 L615.1,147.9 L615.2,147 L615.3,146 L615.4,145 L615.5,144 L615.6,143 L615.7,142 L615.8,141 L615.9,140 L616,139.1 L616.1,138.1 L616.2,137.1 L616.3,136.1 L616.4,135.1 L616.5,134.1 L616.6,133.1 L616.7,132.1 L616.8,131.2 L616.9,130.2 L617,129.2 L617.1,128.2 L617.2,127.2 L617.2,126.2 L617.3,125.2 L617.4,124.2 L617.4,123.3 L617.5,122.3 L617.5,121.3 L617.5,120.3 L617.6,119.3 L617.6,118.3 L617.6,117.3 L617.6,116.3 L617.6,115.4 L617.7,114.4 L617.7,113.4 L617.7,112.4 L617.7,111.4 L617.7,110.4 L617.7,109.4 L617.7,108.5 L617.7,107.5 L617.7,106.5 L617.8,105.5 L617.8,104.5 L617.8,103.5 L617.8,102.5 L617.8,101.5 L617.8,100.6 L617.8,99.6 L617.8,98.6 L617.8,97.6 L617.8,96.6 L617.8,95.6 L617.8,94.6 L617.8,93.6 L617.8,92.7 L617.9,91.7 L617.9,90.7 L617.9,89.7 L617.9,88.7 L617.9,87.7 L617.9,86.7 L617.9,85.7 L617.9,84.8 L617.9,83.8 L617.9,82.8 L617.9,81.8 L617.9,80.8 L617.9,79.8 L617.9,78.8 L617.9,77.9 Z" fill="#C6A9A0" stroke="#3d302e" stroke-width="0.9"/>
<line x1="613.6" y1="164.4" x2="623.7" y2="164.4" stroke="#3e302d" stroke-width="0.8"/>
<line x1="613.4" y1="190.4" x2="623.9" y2="190.4" stroke="#3e302d" stroke-width="0.8"/>
<line x1="613.1" y1="180.4" x2="624.2" y2="180.4" stroke="#1a1a1a" stroke-width="0.9" stroke-dasharray="1.3 0.9"/>
<ellipse cx="618.6" cy="173.1" rx="1.7" ry="2" fill="#000"/>
<path d="M641,46.5 L641,47.4 L641,48.4 L641,49.4 L641,50.4 L641,51.4 L641,52.4 L641,53.4 L641,54.4 L641,55.4 L641,56.4 L641,57.4 L641,58.4 L641,59.4 L641,60.4 L641,61.4 L641,62.4 L641,63.3 L641,64.3 L641,65.3 L641,66.3 L641,67.3 L641,68.3 L641,69.3 L641,70.3 L641,71.3 L641,72.3 L641,73.3 L641,74.3 L641,75.3 L641,76.3 L641,77.3 L641,78.3 L641,79.3 L641,80.2 L641,81.2 L641.1,82.2 L641.1,83.2 L641.1,84.2 L641.1,85.2 L641.1,86.2 L641.1,87.2 L641.1,88.2 L641.1,89.2 L641.1,90.2 L641.1,91.2 L641.1,92.2 L641.1,93.2 L641.1,94.2 L641.1,95.2 L641.1,96.2 L641.1,97.1 L641.1,98.1 L641.1,99.1 L641.1,100.1 L641.1,101.1 L641.1,102.1 L641.1,103.1 L641.1,104.1 L641.1,105.1 L641.1,106.1 L641.1,107.1 L641.1,108.1 L641.1,109.1 L641.1,110.1 L641.1,111.1 L641.1,112.1 L641.2,113.1 L641.2,114 L641.2,115 L641.2,116 L641.2,117 L641.2,118 L641.2,119 L641.2,120 L641.2,121 L641.2,122 L641.3,123 L641.3,124 L641.3,125 L641.4,126 L641.4,127 L641.4,128 L641.5,129 L641.5,130 L641.6,130.9 L641.6,131.9 L641.7,132.9 L641.8,133.9 L641.8,134.9 L641.9,135.9 L641.9,136.9 L642,137.9 L642,138.9 L642.1,139.9 L642.1,140.9 L642.2,141.9 L642.3,142.9 L642.3,143.9 L642.4,144.9 L642.4,145.9 L642.5,146.9 L642.6,147.8 L642.6,148.8 L642.7,149.8 L642.8,150.8 L642.8,151.8 L642.9,152.8 L643,153.8 L643.1,154.8 L643.2,155.8 L643.3,156.8 L643.4,157.8 L643.5,158.8 L643.6,159.8 L643.7,160.8 L643.7,161.8 L643.8,162.8 L643.9,163.8 L643.9,164.7 L644,165.7 L644.1,166.7 L644.1,167.7 L644.2,168.7 L644.2,169.7 L644.3,170.7 L644.3,171.7 L644.4,172.7 L644.4,173.7 L644.5,174.7 L644.5,175.7 L644.6,176.7 L644.6,177.7 L644.7,178.7 L644.7,179.7 L644.7,180.7 L644.7,181.6 L644.7,182.6 L644.8,183.6 L644.8,184.6 L644.8,185.6 L644.8,186.6 L644.8,187.6 L644.8,188.6 L644.8,189.6 L644.8,190.6 L644.8,191.6 L644.8,192.6 L644.9,193.6 L644.9,194.6 L644.9,195.6 L644.9,196.6 L644.9,197.6 L644.9,198.5 L644.9,199.5 L644.9,200.5 L644.9,201.5 L644.9,202.5 L644.9,203.5 L644.9,204.5 L644.9,205.5 L644.9,206.5 L644.8,207.5 L644.8,208.5 L644.7,209.5 L644.7,210.5 L644.6,211.5 L644.5,212.5 L644.4,213.5 L644.3,214.5 L636.2,214.5 L636.1,213.5 L636,212.5 L635.9,211.5 L635.8,210.5 L635.8,209.5 L635.7,208.5 L635.7,207.5 L635.6,206.5 L635.6,205.5 L635.6,204.5 L635.6,203.5 L635.6,202.5 L635.6,201.5 L635.6,200.5 L635.6,199.5 L635.6,198.5 L635.6,197.6 L635.6,196.6 L635.6,195.6 L635.6,194.6 L635.6,193.6 L635.7,192.6 L635.7,191.6 L635.7,190.6 L635.7,189.6 L635.7,188.6 L635.7,187.6 L635.7,186.6 L635.7,185.6 L635.7,184.6 L635.7,183.6 L635.8,182.6 L635.8,181.6 L635.8,180.7 L635.8,179.7 L635.8,178.7 L635.9,177.7 L635.9,176.7 L636,175.7 L636,174.7 L636.1,173.7 L636.1,172.7 L636.2,171.7 L636.2,170.7 L636.3,169.7 L636.3,168.7 L636.4,167.7 L636.4,166.7 L636.5,165.7 L636.6,164.7 L636.6,163.8 L636.7,162.8 L636.8,161.8 L636.8,160.8 L636.9,159.8 L637,158.8 L637.1,157.8 L637.2,156.8 L637.3,155.8 L637.4,154.8 L637.5,153.8 L637.6,152.8 L637.7,151.8 L637.7,150.8 L637.8,149.8 L637.9,148.8 L637.9,147.8 L638,146.9 L638.1,145.9 L638.1,144.9 L638.2,143.9 L638.2,142.9 L638.3,141.9 L638.4,140.9 L638.4,139.9 L638.5,138.9 L638.5,137.9 L638.6,136.9 L638.6,135.9 L638.7,134.9 L638.7,133.9 L638.8,132.9 L638.9,131.9 L638.9,130.9 L639,130 L639,129 L639.1,128 L639.1,127 L639.1,126 L639.2,125 L639.2,124 L639.2,123 L639.3,122 L639.3,121 L639.3,120 L639.3,119 L639.3,118 L639.3,117 L639.3,116 L639.3,115 L639.3,114 L639.3,113.1 L639.4,112.1 L639.4,111.1 L639.4,110.1 L639.4,109.1 L639.4,108.1 L639.4,107.1 L639.4,106.1 L639.4,105.1 L639.4,104.1 L639.4,103.1 L639.4,102.1 L639.4,101.1 L639.4,100.1 L639.4,99.1 L639.4,98.1 L639.4,97.1 L639.4,96.2 L639.4,95.2 L639.4,94.2 L639.4,93.2 L639.4,92.2 L639.4,91.2 L639.4,90.2 L639.4,89.2 L639.4,88.2 L639.4,87.2 L639.4,86.2 L639.4,85.2 L639.4,84.2 L639.4,83.2 L639.4,82.2 L639.5,81.2 L639.5,80.2 L639.5,79.3 L639.5,78.3 L639.5,77.3 L639.5,76.3 L639.5,75.3 L639.5,74.3 L639.5,73.3 L639.5,72.3 L639.5,71.3 L639.5,70.3 L639.5,69.3 L639.5,68.3 L639.5,67.3 L639.5,66.3 L639.5,65.3 L639.5,64.3 L639.5,63.3 L639.5,62.4 L639.5,61.4 L639.5,60.4 L639.5,59.4 L639.5,58.4 L639.5,57.4 L639.5,56.4 L639.5,55.4 L639.5,54.4 L639.5,53.4 L639.5,52.4 L639.5,51.4 L639.5,50.4 L639.5,49.4 L639.5,48.4 L639.5,47.4 L639.5,46.5 Z" fill="#C6A9A0" stroke="#3d302e" stroke-width="0.9"/>
<line x1="637.4" y1="155.4" x2="643.1" y2="155.4" stroke="#3e302d" stroke-width="0.8"/>
<line x1="635.7" y1="203.2" x2="644.8" y2="203.2" stroke="#3e302d" stroke-width="0.8"/>
<line x1="635.7" y1="189.4" x2="644.8" y2="189.4" stroke="#1a1a1a" stroke-width="0.9" stroke-dasharray="1.3 0.9"/>
<ellipse cx="640.2" cy="173" rx="1.7" ry="2" fill="#000"/>
<path d="M663.4,103.9 L663.4,104.8 L663.4,105.8 L663.4,106.8 L663.4,107.8 L663.4,108.8 L663.4,109.8 L663.4,110.8 L663.4,111.8 L663.4,112.8 L663.4,113.8 L663.4,114.7 L663.4,115.7 L663.4,116.7 L663.4,117.7 L663.4,118.7 L663.4,119.7 L663.5,120.7 L663.5,121.7 L663.5,122.7 L663.5,123.7 L663.5,124.7 L663.5,125.6 L663.5,126.6 L663.5,127.6 L663.5,128.6 L663.5,129.6 L663.5,130.6 L663.5,131.6 L663.5,132.6 L663.5,133.6 L663.5,134.6 L663.6,135.5 L663.6,136.5 L663.6,137.5 L663.6,138.5 L663.6,139.5 L663.6,140.5 L663.6,141.5 L663.6,142.5 L663.6,143.5 L663.7,144.5 L663.7,145.5 L663.7,146.4 L663.7,147.4 L663.7,148.4 L663.7,149.4 L663.7,150.4 L663.8,151.4 L663.8,152.4 L663.8,153.4 L663.8,154.4 L663.9,155.4 L663.9,156.4 L663.9,157.3 L663.9,158.3 L664,159.3 L664,160.3 L664.1,161.3 L664.2,162.3 L664.3,163.3 L664.4,164.3 L664.5,165.3 L664.7,166.3 L664.8,167.2 L665,168.2 L665.2,169.2 L665.3,170.2 L665.5,171.2 L665.8,172.2 L666.1,173.2 L666.4,174.2 L666.6,175.2 L666.9,176.2 L667.1,177.2 L667.2,178.1 L667.3,179.1 L667.4,180.1 L667.5,181.1 L667.6,182.1 L667.7,183.1 L667.7,184.1 L667.8,185.1 L667.8,186.1 L667.9,187.1 L667.9,188.1 L668,189 L668,190 L668.1,191 L668.1,192 L668.2,193 L668.2,194 L668.3,195 L668.4,196 L668.4,197 L668.5,198 L668.6,198.9 L668.6,199.9 L668.7,200.9 L668.7,201.9 L668.8,202.9 L668.8,203.9 L668.8,204.9 L668.8,205.9 L668.8,206.9 L668.7,207.9 L668.7,208.9 L668.6,209.8 L668.5,210.8 L668.5,211.8 L668.4,212.8 L668.3,213.8 L668.2,214.8 L668,215.8 L667.8,216.8 L667.6,217.8 L667.3,218.8 L667,219.8 L656.7,219.8 L656.4,218.8 L656.1,217.8 L655.9,216.8 L655.7,215.8 L655.5,214.8 L655.4,213.8 L655.3,212.8 L655.2,211.8 L655.2,210.8 L655.1,209.8 L655,208.9 L655,207.9 L654.9,206.9 L654.9,205.9 L654.9,204.9 L654.9,203.9 L654.9,202.9 L655,201.9 L655,200.9 L655.1,199.9 L655.1,198.9 L655.2,198 L655.3,197 L655.3,196 L655.4,195 L655.5,194 L655.5,193 L655.6,192 L655.6,191 L655.7,190 L655.7,189 L655.8,188.1 L655.8,187.1 L655.9,186.1 L655.9,185.1 L656,184.1 L656,183.1 L656.1,182.1 L656.2,181.1 L656.3,180.1 L656.4,179.1 L656.5,178.1 L656.6,177.2 L656.8,176.2 L657.1,175.2 L657.3,174.2 L657.6,173.2 L657.9,172.2 L658.2,171.2 L658.4,170.2 L658.5,169.2 L658.7,168.2 L658.9,167.2 L659,166.3 L659.2,165.3 L659.3,164.3 L659.4,163.3 L659.5,162.3 L659.6,161.3 L659.7,160.3 L659.7,159.3 L659.8,158.3 L659.8,157.3 L659.8,156.4 L659.8,155.4 L659.9,154.4 L659.9,153.4 L659.9,152.4 L659.9,151.4 L660,150.4 L660,149.4 L660,148.4 L660,147.4 L660,146.4 L660,145.5 L660,144.5 L660.1,143.5 L660.1,142.5 L660.1,141.5 L660.1,140.5 L660.1,139.5 L660.1,138.5 L660.1,137.5 L660.1,136.5 L660.1,135.5 L660.2,134.6 L660.2,133.6 L660.2,132.6 L660.2,131.6 L660.2,130.6 L660.2,129.6 L660.2,128.6 L660.2,127.6 L660.2,126.6 L660.2,125.6 L660.2,124.7 L660.2,123.7 L660.2,122.7 L660.2,121.7 L660.2,120.7 L660.3,119.7 L660.3,118.7 L660.3,117.7 L660.3,116.7 L660.3,115.7 L660.3,114.7 L660.3,113.8 L660.3,112.8 L660.3,111.8 L660.3,110.8 L660.3,109.8 L660.3,108.8 L660.3,107.8 L660.3,106.8 L660.3,105.8 L660.3,104.8 L660.3,103.9 Z" fill="#C6A9A0" stroke="#3d302e" stroke-width="0.9"/>
<line x1="656.5" y1="178.3" x2="667.2" y2="178.3" stroke="#3e302d" stroke-width="0.8"/>
<line x1="655.2" y1="198.8" x2="668.5" y2="198.8" stroke="#1a1a1a" stroke-width="0.9" stroke-dasharray="1.3 0.9"/>
<ellipse cx="661.9" cy="182.3" rx="1.7" ry="2" fill="#000"/>
<line x1="449" y1="201" x2="673.6" y2="201" stroke="#ff1a0a" stroke-width="2.1" stroke-dasharray="5.6 1.9"/>
<g stroke="#000" stroke-width="2" fill="none">
<line x1="451.8" y1="40.5" x2="451.8" y2="280.7"/>
<line x1="450.8" y1="279.7" x2="673" y2="279.7"/>
<line x1="446" y1="41.5" x2="451.8" y2="41.5"/>
<line x1="446" y1="160.7" x2="451.8" y2="160.7"/>
<line x1="446" y1="279.7" x2="451.8" y2="279.7"/>
<line x1="467.4" y1="279.7" x2="467.4" y2="284.3"/>
<line x1="489.1" y1="279.7" x2="489.1" y2="284.3"/>
<line x1="510.6" y1="279.7" x2="510.6" y2="284.3"/>
<line x1="532.2" y1="279.7" x2="532.2" y2="284.3"/>
<line x1="553.9" y1="279.7" x2="553.9" y2="284.3"/>
<line x1="575.5" y1="279.7" x2="575.5" y2="284.3"/>
<line x1="597" y1="279.7" x2="597" y2="284.3"/>
<line x1="618.6" y1="279.7" x2="618.6" y2="284.3"/>
<line x1="640.2" y1="279.7" x2="640.2" y2="284.3"/>
<line x1="661.9" y1="279.7" x2="661.9" y2="284.3"/>
</g>
<line x1="449" y1="201" x2="455" y2="201" stroke="#ff1a0a" stroke-width="2.1"/>
<rect x="274.1" y="40.9" width="98.8" height="71.8" fill="#fff" stroke="#a6a6a6" stroke-width="2"/>
<rect x="280.5" y="77.6" width="17.8" height="10.5" fill="#E1C96A" stroke="#222" stroke-width="1"/>
<rect x="280.5" y="93.6" width="17.8" height="10.9" fill="#9F8DDF" stroke="#222" stroke-width="1"/>
<g style="filter:grayscale(1)">
<text transform="translate(0.6,24.1) scale(0.97,1)" font-size="32.4" font-weight="bold">A</text>
<text transform="translate(426.5,23.8) scale(0.92,1)" font-size="30.5" font-weight="bold">B</text>
<g font-size="14" text-anchor="end">
<text x="52.3" y="45.2">0.70</text>
<text x="52.3" y="164.9">0.35</text>
<text x="52.3" y="284.8">0.00</text>
<text x="442" y="47">60</text>
<text x="442.3" y="165.9">15</text>
<text x="442.3" y="283.7">-30</text>
</g>
<g font-size="14" text-anchor="middle">
<text x="82.1" y="298.2">1</text>
<text x="369.6" y="298.4">10</text>
<text x="467.6" y="298.2">1</text>
<text x="662.6" y="298.4">10</text>
</g>
<g font-size="14.5" font-weight="bold" text-anchor="middle">
<text x="223" y="320.6">Distance quantile</text>
<text x="563" y="320.6">Distance quantile</text>
</g>
<g font-size="14" font-weight="bold" text-anchor="middle">
<text transform="translate(17.9,161) rotate(-90)">Level of rs-FC (z)</text>
<text transform="translate(420.2,157.9) rotate(-90)" font-size="14.3">Selectivity of rs-FC (%)</text>
</g>
<g font-size="12.4" font-weight="bold" text-anchor="middle">
<text x="323.6" y="58.5">Relative</text>
<text x="323.3" y="71.8">ocular polarity</text>
</g>
<g font-size="13">
<text x="305" y="88">Alike</text>
<text x="305" y="103.9">Unalike</text>
</g>
</g>
</svg>
</body></html>
